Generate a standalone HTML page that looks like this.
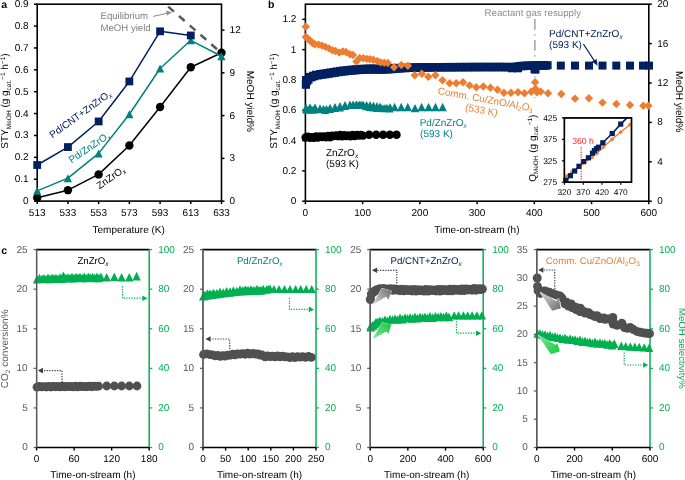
<!DOCTYPE html>
<html><head><meta charset="utf-8"><style>
html,body{margin:0;padding:0;background:#fff;width:685px;height:480px;overflow:hidden}
svg{display:block;will-change:transform;text-rendering:geometricPrecision}
text{font-family:"Liberation Sans",sans-serif}
</style></head><body>
<svg width="685" height="480" viewBox="0 0 685 480" font-family="Liberation Sans, sans-serif">
<rect width="685" height="480" fill="#fff"/>
<rect x="37.2" y="4.2" width="184.3" height="196.9" fill="none" stroke="#000" stroke-width="1.6"/>
<line x1="34.00" y1="201.10" x2="37.20" y2="201.10" stroke="#000" stroke-width="1.5"/>
<text x="28.60" y="204.05" font-size="10" text-anchor="end" fill="#000">0</text>
<line x1="34.00" y1="179.22" x2="37.20" y2="179.22" stroke="#000" stroke-width="1.5"/>
<text x="28.60" y="182.17" font-size="10" text-anchor="end" fill="#000">0.1</text>
<line x1="34.00" y1="157.34" x2="37.20" y2="157.34" stroke="#000" stroke-width="1.5"/>
<text x="28.60" y="160.29" font-size="10" text-anchor="end" fill="#000">0.2</text>
<line x1="34.00" y1="135.47" x2="37.20" y2="135.47" stroke="#000" stroke-width="1.5"/>
<text x="28.60" y="138.42" font-size="10" text-anchor="end" fill="#000">0.3</text>
<line x1="34.00" y1="113.59" x2="37.20" y2="113.59" stroke="#000" stroke-width="1.5"/>
<text x="28.60" y="116.54" font-size="10" text-anchor="end" fill="#000">0.4</text>
<line x1="34.00" y1="91.71" x2="37.20" y2="91.71" stroke="#000" stroke-width="1.5"/>
<text x="28.60" y="94.66" font-size="10" text-anchor="end" fill="#000">0.5</text>
<line x1="34.00" y1="69.83" x2="37.20" y2="69.83" stroke="#000" stroke-width="1.5"/>
<text x="28.60" y="72.78" font-size="10" text-anchor="end" fill="#000">0.6</text>
<line x1="34.00" y1="47.96" x2="37.20" y2="47.96" stroke="#000" stroke-width="1.5"/>
<text x="28.60" y="50.91" font-size="10" text-anchor="end" fill="#000">0.7</text>
<line x1="34.00" y1="26.08" x2="37.20" y2="26.08" stroke="#000" stroke-width="1.5"/>
<text x="28.60" y="29.03" font-size="10" text-anchor="end" fill="#000">0.8</text>
<line x1="34.00" y1="4.20" x2="37.20" y2="4.20" stroke="#000" stroke-width="1.5"/>
<text x="28.60" y="7.15" font-size="10" text-anchor="end" fill="#000">0.9</text>
<line x1="221.50" y1="201.10" x2="224.50" y2="201.10" stroke="#000" stroke-width="1.5"/>
<text x="229.60" y="204.05" font-size="10" text-anchor="start" fill="#000">0</text>
<line x1="221.50" y1="158.35" x2="224.50" y2="158.35" stroke="#000" stroke-width="1.5"/>
<text x="229.60" y="161.30" font-size="10" text-anchor="start" fill="#000">3</text>
<line x1="221.50" y1="115.60" x2="224.50" y2="115.60" stroke="#000" stroke-width="1.5"/>
<text x="229.60" y="118.55" font-size="10" text-anchor="start" fill="#000">6</text>
<line x1="221.50" y1="72.85" x2="224.50" y2="72.85" stroke="#000" stroke-width="1.5"/>
<text x="229.60" y="75.80" font-size="10" text-anchor="start" fill="#000">9</text>
<line x1="221.50" y1="30.10" x2="224.50" y2="30.10" stroke="#000" stroke-width="1.5"/>
<text x="229.60" y="33.05" font-size="10" text-anchor="start" fill="#000">12</text>
<line x1="37.20" y1="201.10" x2="37.20" y2="204.10" stroke="#000" stroke-width="1.5"/>
<text x="37.20" y="216.20" font-size="10" text-anchor="middle" fill="#000">513</text>
<line x1="67.92" y1="201.10" x2="67.92" y2="204.10" stroke="#000" stroke-width="1.5"/>
<text x="67.92" y="216.20" font-size="10" text-anchor="middle" fill="#000">533</text>
<line x1="98.63" y1="201.10" x2="98.63" y2="204.10" stroke="#000" stroke-width="1.5"/>
<text x="98.63" y="216.20" font-size="10" text-anchor="middle" fill="#000">553</text>
<line x1="129.35" y1="201.10" x2="129.35" y2="204.10" stroke="#000" stroke-width="1.5"/>
<text x="129.35" y="216.20" font-size="10" text-anchor="middle" fill="#000">573</text>
<line x1="160.07" y1="201.10" x2="160.07" y2="204.10" stroke="#000" stroke-width="1.5"/>
<text x="160.07" y="216.20" font-size="10" text-anchor="middle" fill="#000">593</text>
<line x1="190.78" y1="201.10" x2="190.78" y2="204.10" stroke="#000" stroke-width="1.5"/>
<text x="190.78" y="216.20" font-size="10" text-anchor="middle" fill="#000">613</text>
<line x1="221.50" y1="201.10" x2="221.50" y2="204.10" stroke="#000" stroke-width="1.5"/>
<text x="221.50" y="216.20" font-size="10" text-anchor="middle" fill="#000">633</text>
<text x="128.70" y="232.90" font-size="10" text-anchor="middle" fill="#000">Temperature (K)</text>
<text x="246.60" y="101.30" font-size="10" text-anchor="middle" fill="#000" transform="rotate(90 246.6 101.3)">MeOH yield%</text>
<text x="8.0" y="101" font-size="10" fill="#000" text-anchor="middle" transform="rotate(-90 8.0 101)">STY<tspan font-size="6.5" dy="2.5">MeOH</tspan><tspan dy="-2.5"> (g g</tspan><tspan font-size="6.5" dy="2.5">cat.</tspan><tspan font-size="6.5" dy="-6">−1</tspan><tspan dy="3.5"> h</tspan><tspan font-size="6.5" dy="-3.5">−1</tspan><tspan dy="3.5">)</tspan></text>
<line x1="168.20" y1="6.60" x2="221.40" y2="53.00" stroke="#595959" stroke-width="2.5" stroke-dasharray="7.6,6.7"/>
<polyline points="37.20,197.82 67.92,190.16 98.63,174.41 129.35,145.53 160.07,107.03 190.78,67.21 221.50,52.77" fill="none" stroke="#000" stroke-width="1.5" stroke-linejoin="round"/>
<circle cx="37.20" cy="197.82" r="4.2" fill="#000"/>
<circle cx="67.92" cy="190.16" r="4.2" fill="#000"/>
<circle cx="98.63" cy="174.41" r="4.2" fill="#000"/>
<circle cx="129.35" cy="145.53" r="4.2" fill="#000"/>
<circle cx="160.07" cy="107.03" r="4.2" fill="#000"/>
<circle cx="190.78" cy="67.21" r="4.2" fill="#000"/>
<circle cx="221.50" cy="52.77" r="4.2" fill="#000"/>
<polyline points="37.20,190.82 67.92,178.13 98.63,153.41 129.35,114.25 160.07,68.52 190.78,40.30 221.50,56.27" fill="none" stroke="#008080" stroke-width="1.5" stroke-linejoin="round"/>
<path d="M37.20,186.82L41.30,194.82L33.10,194.82Z" fill="#008080"/>
<path d="M67.92,174.13L72.02,182.13L63.82,182.13Z" fill="#008080"/>
<path d="M98.63,149.41L102.73,157.41L94.53,157.41Z" fill="#008080"/>
<path d="M129.35,110.25L133.45,118.25L125.25,118.25Z" fill="#008080"/>
<path d="M160.07,64.52L164.17,72.52L155.97,72.52Z" fill="#008080"/>
<path d="M190.78,36.30L194.88,44.30L186.68,44.30Z" fill="#008080"/>
<path d="M221.50,52.27L225.60,60.27L217.40,60.27Z" fill="#008080"/>
<polyline points="37.20,165.00 67.92,147.06 98.63,121.46 129.35,81.43 160.07,31.33 190.78,35.49" fill="none" stroke="#002060" stroke-width="1.5" stroke-linejoin="round"/>
<rect x="33.30" y="161.10" width="7.8" height="7.8" fill="#002060"/>
<rect x="64.02" y="143.16" width="7.8" height="7.8" fill="#002060"/>
<rect x="94.73" y="117.56" width="7.8" height="7.8" fill="#002060"/>
<rect x="125.45" y="77.53" width="7.8" height="7.8" fill="#002060"/>
<rect x="156.17" y="27.43" width="7.8" height="7.8" fill="#002060"/>
<rect x="186.88" y="31.59" width="7.8" height="7.8" fill="#002060"/>
<text x="100.50" y="19.10" font-size="9.6" text-anchor="start" fill="#7f7f7f">Equilibrium</text>
<text x="100.50" y="30.90" font-size="9.6" text-anchor="start" fill="#7f7f7f">MeOH yield</text>
<line x1="153.10" y1="16.40" x2="167.00" y2="13.30" stroke="#8c8c8c" stroke-width="1"/>
<path d="M171.8,12.3 L166,10.6 L167.2,15.6 Z" fill="#8c8c8c"/>
<text x="52.5" y="138.5" font-size="10" fill="#002060" transform="rotate(-36 52.5 138.5)">Pd/CNT+ZnZrO<tspan font-size="6.5" dy="2" font-style="italic">x</tspan></text>
<text x="71.5" y="163.5" font-size="10" fill="#008080" transform="rotate(-34 71.5 163.5)">Pd/ZnZrO<tspan font-size="6.5" dy="2" font-style="italic">x</tspan></text>
<text x="99.5" y="189.5" font-size="10" fill="#000" transform="rotate(-35 99.5 189.5)">ZnZrO<tspan font-size="6.5" dy="2" font-style="italic">x</tspan></text>
<text x="1.20" y="8.00" font-size="10.5" text-anchor="start" fill="#000" font-weight="bold">a</text>
<text x="268.00" y="8.00" font-size="10.5" text-anchor="start" fill="#000" font-weight="bold">b</text>
<text x="1.20" y="253.80" font-size="10.5" text-anchor="start" fill="#000" font-weight="bold">c</text>
<rect x="305.4" y="4.2" width="343.4" height="197.0" fill="none" stroke="#000" stroke-width="1.6"/>
<line x1="302.20" y1="201.20" x2="305.40" y2="201.20" stroke="#000" stroke-width="1.5"/>
<text x="296.30" y="204.15" font-size="10" text-anchor="end" fill="#000">0</text>
<line x1="302.20" y1="170.89" x2="305.40" y2="170.89" stroke="#000" stroke-width="1.5"/>
<text x="296.30" y="173.84" font-size="10" text-anchor="end" fill="#000">0.2</text>
<line x1="302.20" y1="140.58" x2="305.40" y2="140.58" stroke="#000" stroke-width="1.5"/>
<text x="296.30" y="143.53" font-size="10" text-anchor="end" fill="#000">0.4</text>
<line x1="302.20" y1="110.28" x2="305.40" y2="110.28" stroke="#000" stroke-width="1.5"/>
<text x="296.30" y="113.23" font-size="10" text-anchor="end" fill="#000">0.6</text>
<line x1="302.20" y1="79.97" x2="305.40" y2="79.97" stroke="#000" stroke-width="1.5"/>
<text x="296.30" y="82.92" font-size="10" text-anchor="end" fill="#000">0.8</text>
<line x1="302.20" y1="49.66" x2="305.40" y2="49.66" stroke="#000" stroke-width="1.5"/>
<text x="296.30" y="52.61" font-size="10" text-anchor="end" fill="#000">1</text>
<line x1="302.20" y1="19.35" x2="305.40" y2="19.35" stroke="#000" stroke-width="1.5"/>
<text x="296.30" y="22.30" font-size="10" text-anchor="end" fill="#000">1.2</text>
<line x1="648.80" y1="201.20" x2="651.80" y2="201.20" stroke="#000" stroke-width="1.5"/>
<text x="657.20" y="204.15" font-size="10" text-anchor="start" fill="#000">0</text>
<line x1="648.80" y1="161.80" x2="651.80" y2="161.80" stroke="#000" stroke-width="1.5"/>
<text x="657.20" y="164.75" font-size="10" text-anchor="start" fill="#000">4</text>
<line x1="648.80" y1="122.40" x2="651.80" y2="122.40" stroke="#000" stroke-width="1.5"/>
<text x="657.20" y="125.35" font-size="10" text-anchor="start" fill="#000">8</text>
<line x1="648.80" y1="83.00" x2="651.80" y2="83.00" stroke="#000" stroke-width="1.5"/>
<text x="657.20" y="85.95" font-size="10" text-anchor="start" fill="#000">12</text>
<line x1="648.80" y1="43.60" x2="651.80" y2="43.60" stroke="#000" stroke-width="1.5"/>
<text x="657.20" y="46.55" font-size="10" text-anchor="start" fill="#000">16</text>
<line x1="648.80" y1="4.20" x2="651.80" y2="4.20" stroke="#000" stroke-width="1.5"/>
<text x="657.20" y="7.15" font-size="10" text-anchor="start" fill="#000">20</text>
<line x1="305.40" y1="201.20" x2="305.40" y2="204.20" stroke="#000" stroke-width="1.5"/>
<text x="305.40" y="216.20" font-size="10" text-anchor="middle" fill="#000">0</text>
<line x1="362.63" y1="201.20" x2="362.63" y2="204.20" stroke="#000" stroke-width="1.5"/>
<text x="362.63" y="216.20" font-size="10" text-anchor="middle" fill="#000">100</text>
<line x1="419.87" y1="201.20" x2="419.87" y2="204.20" stroke="#000" stroke-width="1.5"/>
<text x="419.87" y="216.20" font-size="10" text-anchor="middle" fill="#000">200</text>
<line x1="477.10" y1="201.20" x2="477.10" y2="204.20" stroke="#000" stroke-width="1.5"/>
<text x="477.10" y="216.20" font-size="10" text-anchor="middle" fill="#000">300</text>
<line x1="534.33" y1="201.20" x2="534.33" y2="204.20" stroke="#000" stroke-width="1.5"/>
<text x="534.33" y="216.20" font-size="10" text-anchor="middle" fill="#000">400</text>
<line x1="591.57" y1="201.20" x2="591.57" y2="204.20" stroke="#000" stroke-width="1.5"/>
<text x="591.57" y="216.20" font-size="10" text-anchor="middle" fill="#000">500</text>
<line x1="648.80" y1="201.20" x2="648.80" y2="204.20" stroke="#000" stroke-width="1.5"/>
<text x="648.80" y="216.20" font-size="10" text-anchor="middle" fill="#000">600</text>
<text x="476.90" y="232.50" font-size="10" text-anchor="middle" fill="#000">Time-on-stream (h)</text>
<text x="676.30" y="101.70" font-size="10" text-anchor="middle" fill="#000" transform="rotate(90 676.3 101.7)">MeOH yield%</text>
<text x="277.0" y="101" font-size="10" fill="#000" text-anchor="middle" transform="rotate(-90 277.0 101)">STY<tspan font-size="6.5" dy="2.5">MeOH</tspan><tspan dy="-2.5"> (g g</tspan><tspan font-size="6.5" dy="2.5">cat.</tspan><tspan font-size="6.5" dy="-6">−1</tspan><tspan dy="3.5"> h</tspan><tspan font-size="6.5" dy="-3.5">−1</tspan><tspan dy="3.5">)</tspan></text>
<line x1="534.90" y1="19.00" x2="534.90" y2="98.00" stroke="#8a8a8a" stroke-width="1.2" stroke-dasharray="10.8,4.5,1.3,4.4"/>
<circle cx="305.60" cy="137.50" r="4.2" fill="#000"/>
<circle cx="307.80" cy="136.72" r="4.2" fill="#000"/>
<circle cx="310.00" cy="137.68" r="4.2" fill="#000"/>
<circle cx="312.00" cy="137.14" r="4.2" fill="#000"/>
<circle cx="314.00" cy="137.80" r="4.2" fill="#000"/>
<circle cx="316.00" cy="136.54" r="4.2" fill="#000"/>
<circle cx="318.00" cy="137.62" r="4.2" fill="#000"/>
<circle cx="320.00" cy="136.42" r="4.2" fill="#000"/>
<circle cx="322.00" cy="137.02" r="4.2" fill="#000"/>
<circle cx="324.00" cy="136.54" r="4.2" fill="#000"/>
<circle cx="326.00" cy="137.26" r="4.2" fill="#000"/>
<circle cx="328.00" cy="136.06" r="4.2" fill="#000"/>
<circle cx="330.00" cy="137.20" r="4.2" fill="#000"/>
<circle cx="332.00" cy="135.79" r="4.2" fill="#000"/>
<circle cx="334.00" cy="136.11" r="4.2" fill="#000"/>
<circle cx="336.00" cy="135.36" r="4.2" fill="#000"/>
<circle cx="338.00" cy="136.17" r="4.2" fill="#000"/>
<circle cx="340.00" cy="135.07" r="4.2" fill="#000"/>
<circle cx="342.00" cy="136.30" r="4.2" fill="#000"/>
<circle cx="344.00" cy="135.25" r="4.2" fill="#000"/>
<circle cx="346.00" cy="135.95" r="4.2" fill="#000"/>
<circle cx="348.00" cy="135.56" r="4.2" fill="#000"/>
<circle cx="350.25" cy="136.24" r="4.2" fill="#000"/>
<circle cx="352.50" cy="135.00" r="4.2" fill="#000"/>
<circle cx="354.75" cy="136.10" r="4.2" fill="#000"/>
<circle cx="357.00" cy="134.92" r="4.2" fill="#000"/>
<circle cx="359.00" cy="135.48" r="4.2" fill="#000"/>
<circle cx="361.00" cy="134.96" r="4.2" fill="#000"/>
<circle cx="363.00" cy="135.64" r="4.2" fill="#000"/>
<circle cx="369.10" cy="134.70" r="4.25" fill="#000"/>
<circle cx="376.10" cy="134.70" r="4.25" fill="#000"/>
<circle cx="383.10" cy="134.70" r="4.25" fill="#000"/>
<circle cx="389.80" cy="134.70" r="4.25" fill="#000"/>
<circle cx="396.50" cy="134.70" r="4.25" fill="#000"/>
<path d="M306.00,105.40L310.00,113.40L302.00,113.40Z" fill="#008080"/>
<path d="M309.00,105.40L313.00,113.40L305.00,113.40Z" fill="#008080"/>
<path d="M312.00,105.40L316.00,113.40L308.00,113.40Z" fill="#008080"/>
<path d="M315.00,105.40L319.00,113.40L311.00,113.40Z" fill="#008080"/>
<path d="M320.00,105.00L324.00,113.00L316.00,113.00Z" fill="#008080"/>
<path d="M323.33,105.00L327.33,113.00L319.33,113.00Z" fill="#008080"/>
<path d="M326.67,105.00L330.67,113.00L322.67,113.00Z" fill="#008080"/>
<path d="M330.00,105.00L334.00,113.00L326.00,113.00Z" fill="#008080"/>
<path d="M335.00,104.00L339.00,112.00L331.00,112.00Z" fill="#008080"/>
<path d="M340.00,103.50L344.00,111.50L336.00,111.50Z" fill="#008080"/>
<path d="M345.00,101.90L349.00,109.90L341.00,109.90Z" fill="#008080"/>
<path d="M350.00,100.80L354.00,108.80L346.00,108.80Z" fill="#008080"/>
<path d="M353.00,100.80L357.00,108.80L349.00,108.80Z" fill="#008080"/>
<path d="M356.00,100.80L360.00,108.80L352.00,108.80Z" fill="#008080"/>
<path d="M359.00,100.80L363.00,108.80L355.00,108.80Z" fill="#008080"/>
<path d="M362.00,100.80L366.00,108.80L358.00,108.80Z" fill="#008080"/>
<path d="M366.00,102.30L370.00,110.30L362.00,110.30Z" fill="#008080"/>
<path d="M369.67,102.90L373.67,110.90L365.67,110.90Z" fill="#008080"/>
<path d="M373.33,103.50L377.33,111.50L369.33,111.50Z" fill="#008080"/>
<path d="M377.00,104.10L381.00,112.10L373.00,112.10Z" fill="#008080"/>
<path d="M381.00,104.10L385.00,112.10L377.00,112.10Z" fill="#008080"/>
<path d="M385.00,104.10L389.00,112.10L381.00,112.10Z" fill="#008080"/>
<path d="M390.00,103.00L394.00,111.00L386.00,111.00Z" fill="#008080"/>
<path d="M306.00,103.60L310.00,111.60L302.00,111.60Z" fill="#008080"/>
<path d="M310.00,103.30L314.00,111.30L306.00,111.30Z" fill="#008080"/>
<path d="M315.00,103.30L319.00,111.30L311.00,111.30Z" fill="#008080"/>
<path d="M320.00,104.60L324.00,112.60L316.00,112.60Z" fill="#008080"/>
<path d="M325.00,106.00L329.00,114.00L321.00,114.00Z" fill="#008080"/>
<path d="M330.00,103.80L334.00,111.80L326.00,111.80Z" fill="#008080"/>
<path d="M335.00,102.90L339.00,110.90L331.00,110.90Z" fill="#008080"/>
<path d="M340.00,102.00L344.00,110.00L336.00,110.00Z" fill="#008080"/>
<path d="M345.00,101.10L349.00,109.10L341.00,109.10Z" fill="#008080"/>
<path d="M350.00,100.70L354.00,108.70L346.00,108.70Z" fill="#008080"/>
<path d="M353.33,100.63L357.33,108.63L349.33,108.63Z" fill="#008080"/>
<path d="M356.67,100.57L360.67,108.57L352.67,108.57Z" fill="#008080"/>
<path d="M360.00,100.50L364.00,108.50L356.00,108.50Z" fill="#008080"/>
<path d="M363.33,100.70L367.33,108.70L359.33,108.70Z" fill="#008080"/>
<path d="M366.67,100.90L370.67,108.90L362.67,108.90Z" fill="#008080"/>
<path d="M370.00,101.10L374.00,109.10L366.00,109.10Z" fill="#008080"/>
<path d="M373.50,101.55L377.50,109.55L369.50,109.55Z" fill="#008080"/>
<path d="M377.00,102.00L381.00,110.00L373.00,110.00Z" fill="#008080"/>
<path d="M380.00,102.40L384.00,110.40L376.00,110.40Z" fill="#008080"/>
<path d="M383.00,104.20L387.00,112.20L379.00,112.20Z" fill="#008080"/>
<path d="M387.00,103.80L391.00,111.80L383.00,111.80Z" fill="#008080"/>
<path d="M389.50,104.40L393.50,112.40L385.50,112.40Z" fill="#008080"/>
<path d="M394.60,102.75L398.80,111.15L390.40,111.15Z" fill="#008080"/>
<path d="M401.20,102.75L405.40,111.15L397.00,111.15Z" fill="#008080"/>
<path d="M407.80,102.75L412.00,111.15L403.60,111.15Z" fill="#008080"/>
<path d="M415.00,103.95L419.20,112.35L410.80,112.35Z" fill="#008080"/>
<path d="M421.60,102.75L425.80,111.15L417.40,111.15Z" fill="#008080"/>
<path d="M428.60,102.75L432.80,111.15L424.40,111.15Z" fill="#008080"/>
<path d="M435.50,102.75L439.70,111.15L431.30,111.15Z" fill="#008080"/>
<path d="M442.60,102.75L446.80,111.15L438.40,111.15Z" fill="#008080"/>
<rect x="301.80" y="80.50" width="8" height="8" fill="#002060"/>
<rect x="303.00" y="77.10" width="8" height="8" fill="#002060"/>
<rect x="304.50" y="75.70" width="8" height="8" fill="#002060"/>
<rect x="306.00" y="72.90" width="8" height="8" fill="#002060"/>
<rect x="307.50" y="73.40" width="8" height="8" fill="#002060"/>
<rect x="309.00" y="71.70" width="8" height="8" fill="#002060"/>
<rect x="310.50" y="72.30" width="8" height="8" fill="#002060"/>
<rect x="312.00" y="70.70" width="8" height="8" fill="#002060"/>
<rect x="314.00" y="71.45" width="8" height="8" fill="#002060"/>
<rect x="316.00" y="70.00" width="8" height="8" fill="#002060"/>
<rect x="317.67" y="70.87" width="8" height="8" fill="#002060"/>
<rect x="319.33" y="69.53" width="8" height="8" fill="#002060"/>
<rect x="321.00" y="70.40" width="8" height="8" fill="#002060"/>
<rect x="322.67" y="69.03" width="8" height="8" fill="#002060"/>
<rect x="324.33" y="69.87" width="8" height="8" fill="#002060"/>
<rect x="326.00" y="68.50" width="8" height="8" fill="#002060"/>
<rect x="327.67" y="69.33" width="8" height="8" fill="#002060"/>
<rect x="329.33" y="67.97" width="8" height="8" fill="#002060"/>
<rect x="331.00" y="68.80" width="8" height="8" fill="#002060"/>
<rect x="332.67" y="67.43" width="8" height="8" fill="#002060"/>
<rect x="334.33" y="68.27" width="8" height="8" fill="#002060"/>
<rect x="336.00" y="66.90" width="8" height="8" fill="#002060"/>
<rect x="337.67" y="67.80" width="8" height="8" fill="#002060"/>
<rect x="339.33" y="66.50" width="8" height="8" fill="#002060"/>
<rect x="341.00" y="67.40" width="8" height="8" fill="#002060"/>
<rect x="342.75" y="66.12" width="8" height="8" fill="#002060"/>
<rect x="344.50" y="67.05" width="8" height="8" fill="#002060"/>
<rect x="346.25" y="65.77" width="8" height="8" fill="#002060"/>
<rect x="348.00" y="66.70" width="8" height="8" fill="#002060"/>
<rect x="349.60" y="65.46" width="8" height="8" fill="#002060"/>
<rect x="351.20" y="66.42" width="8" height="8" fill="#002060"/>
<rect x="352.80" y="65.18" width="8" height="8" fill="#002060"/>
<rect x="354.40" y="66.14" width="8" height="8" fill="#002060"/>
<rect x="356.00" y="64.90" width="8" height="8" fill="#002060"/>
<rect x="357.67" y="65.93" width="8" height="8" fill="#002060"/>
<rect x="359.33" y="64.77" width="8" height="8" fill="#002060"/>
<rect x="361.00" y="65.80" width="8" height="8" fill="#002060"/>
<rect x="362.67" y="64.63" width="8" height="8" fill="#002060"/>
<rect x="364.33" y="65.67" width="8" height="8" fill="#002060"/>
<rect x="366.00" y="64.50" width="8" height="8" fill="#002060"/>
<rect x="367.67" y="65.63" width="8" height="8" fill="#002060"/>
<rect x="369.33" y="64.57" width="8" height="8" fill="#002060"/>
<rect x="371.00" y="65.70" width="8" height="8" fill="#002060"/>
<rect x="372.67" y="64.63" width="8" height="8" fill="#002060"/>
<rect x="374.33" y="65.77" width="8" height="8" fill="#002060"/>
<rect x="376.00" y="64.70" width="8" height="8" fill="#002060"/>
<rect x="377.67" y="65.73" width="8" height="8" fill="#002060"/>
<rect x="379.33" y="64.57" width="8" height="8" fill="#002060"/>
<rect x="381.00" y="65.60" width="8" height="8" fill="#002060"/>
<rect x="382.67" y="64.43" width="8" height="8" fill="#002060"/>
<rect x="384.33" y="65.47" width="8" height="8" fill="#002060"/>
<rect x="386.00" y="64.30" width="8" height="8" fill="#002060"/>
<rect x="387.67" y="65.27" width="8" height="8" fill="#002060"/>
<rect x="389.33" y="64.03" width="8" height="8" fill="#002060"/>
<rect x="391.00" y="65.00" width="8" height="8" fill="#002060"/>
<rect x="392.67" y="63.77" width="8" height="8" fill="#002060"/>
<rect x="394.33" y="64.73" width="8" height="8" fill="#002060"/>
<rect x="396.00" y="64.00" width="8" height="8" fill="#002060"/>
<rect x="397.67" y="64.41" width="8" height="8" fill="#002060"/>
<rect x="399.33" y="63.83" width="8" height="8" fill="#002060"/>
<rect x="401.00" y="64.24" width="8" height="8" fill="#002060"/>
<rect x="402.67" y="63.66" width="8" height="8" fill="#002060"/>
<rect x="404.33" y="64.07" width="8" height="8" fill="#002060"/>
<rect x="406.00" y="63.50" width="8" height="8" fill="#002060"/>
<rect x="407.67" y="63.94" width="8" height="8" fill="#002060"/>
<rect x="409.33" y="63.39" width="8" height="8" fill="#002060"/>
<rect x="411.00" y="63.84" width="8" height="8" fill="#002060"/>
<rect x="412.67" y="63.30" width="8" height="8" fill="#002060"/>
<rect x="414.33" y="63.74" width="8" height="8" fill="#002060"/>
<rect x="416.00" y="63.19" width="8" height="8" fill="#002060"/>
<rect x="417.67" y="63.67" width="8" height="8" fill="#002060"/>
<rect x="419.33" y="63.16" width="8" height="8" fill="#002060"/>
<rect x="421.00" y="63.64" width="8" height="8" fill="#002060"/>
<rect x="422.67" y="63.13" width="8" height="8" fill="#002060"/>
<rect x="424.33" y="63.61" width="8" height="8" fill="#002060"/>
<rect x="426.00" y="63.09" width="8" height="8" fill="#002060"/>
<rect x="427.67" y="63.57" width="8" height="8" fill="#002060"/>
<rect x="429.33" y="63.06" width="8" height="8" fill="#002060"/>
<rect x="431.00" y="63.54" width="8" height="8" fill="#002060"/>
<rect x="432.67" y="63.03" width="8" height="8" fill="#002060"/>
<rect x="434.33" y="63.51" width="8" height="8" fill="#002060"/>
<rect x="436.00" y="63.00" width="8" height="8" fill="#002060"/>
<rect x="437.67" y="63.48" width="8" height="8" fill="#002060"/>
<rect x="439.33" y="62.98" width="8" height="8" fill="#002060"/>
<rect x="441.00" y="63.47" width="8" height="8" fill="#002060"/>
<rect x="442.67" y="62.96" width="8" height="8" fill="#002060"/>
<rect x="444.33" y="63.45" width="8" height="8" fill="#002060"/>
<rect x="446.00" y="62.94" width="8" height="8" fill="#002060"/>
<rect x="447.67" y="63.43" width="8" height="8" fill="#002060"/>
<rect x="449.33" y="62.93" width="8" height="8" fill="#002060"/>
<rect x="451.00" y="63.42" width="8" height="8" fill="#002060"/>
<rect x="452.67" y="62.91" width="8" height="8" fill="#002060"/>
<rect x="454.33" y="63.40" width="8" height="8" fill="#002060"/>
<rect x="456.00" y="62.89" width="8" height="8" fill="#002060"/>
<rect x="457.67" y="63.38" width="8" height="8" fill="#002060"/>
<rect x="459.33" y="62.88" width="8" height="8" fill="#002060"/>
<rect x="461.00" y="63.37" width="8" height="8" fill="#002060"/>
<rect x="462.67" y="62.86" width="8" height="8" fill="#002060"/>
<rect x="464.33" y="63.35" width="8" height="8" fill="#002060"/>
<rect x="466.00" y="62.84" width="8" height="8" fill="#002060"/>
<rect x="467.67" y="63.33" width="8" height="8" fill="#002060"/>
<rect x="469.33" y="62.83" width="8" height="8" fill="#002060"/>
<rect x="471.00" y="63.31" width="8" height="8" fill="#002060"/>
<rect x="472.67" y="62.81" width="8" height="8" fill="#002060"/>
<rect x="474.33" y="63.30" width="8" height="8" fill="#002060"/>
<rect x="476.00" y="62.80" width="8" height="8" fill="#002060"/>
<rect x="477.67" y="63.29" width="8" height="8" fill="#002060"/>
<rect x="479.33" y="62.80" width="8" height="8" fill="#002060"/>
<rect x="481.00" y="63.29" width="8" height="8" fill="#002060"/>
<rect x="482.67" y="62.80" width="8" height="8" fill="#002060"/>
<rect x="484.33" y="63.29" width="8" height="8" fill="#002060"/>
<rect x="486.00" y="62.80" width="8" height="8" fill="#002060"/>
<rect x="487.67" y="63.29" width="8" height="8" fill="#002060"/>
<rect x="489.33" y="62.80" width="8" height="8" fill="#002060"/>
<rect x="491.00" y="63.29" width="8" height="8" fill="#002060"/>
<rect x="492.67" y="62.80" width="8" height="8" fill="#002060"/>
<rect x="494.33" y="63.29" width="8" height="8" fill="#002060"/>
<rect x="496.00" y="62.80" width="8" height="8" fill="#002060"/>
<rect x="497.67" y="63.30" width="8" height="8" fill="#002060"/>
<rect x="499.33" y="62.82" width="8" height="8" fill="#002060"/>
<rect x="501.00" y="63.32" width="8" height="8" fill="#002060"/>
<rect x="502.67" y="62.84" width="8" height="8" fill="#002060"/>
<rect x="504.33" y="63.35" width="8" height="8" fill="#002060"/>
<rect x="506.00" y="62.86" width="8" height="8" fill="#002060"/>
<rect x="507.67" y="63.37" width="8" height="8" fill="#002060"/>
<rect x="509.33" y="62.88" width="8" height="8" fill="#002060"/>
<rect x="511.00" y="63.39" width="8" height="8" fill="#002060"/>
<rect x="512.50" y="62.62" width="8" height="8" fill="#002060"/>
<rect x="514.00" y="62.84" width="8" height="8" fill="#002060"/>
<rect x="515.50" y="62.07" width="8" height="8" fill="#002060"/>
<rect x="517.00" y="62.29" width="8" height="8" fill="#002060"/>
<rect x="518.50" y="61.73" width="8" height="8" fill="#002060"/>
<rect x="520.00" y="62.16" width="8" height="8" fill="#002060"/>
<rect x="521.50" y="61.59" width="8" height="8" fill="#002060"/>
<rect x="523.00" y="62.02" width="8" height="8" fill="#002060"/>
<rect x="524.50" y="61.46" width="8" height="8" fill="#002060"/>
<rect x="526.00" y="61.89" width="8" height="8" fill="#002060"/>
<rect x="527.60" y="61.38" width="8" height="8" fill="#002060"/>
<rect x="529.20" y="61.85" width="8" height="8" fill="#002060"/>
<rect x="530.80" y="61.34" width="8" height="8" fill="#002060"/>
<rect x="532.40" y="61.82" width="8" height="8" fill="#002060"/>
<rect x="534.00" y="61.30" width="8" height="8" fill="#002060"/>
<rect x="535.60" y="61.78" width="8" height="8" fill="#002060"/>
<rect x="537.20" y="61.27" width="8" height="8" fill="#002060"/>
<rect x="538.80" y="61.74" width="8" height="8" fill="#002060"/>
<rect x="540.40" y="61.23" width="8" height="8" fill="#002060"/>
<rect x="542.00" y="61.71" width="8" height="8" fill="#002060"/>
<rect x="543.60" y="61.19" width="8" height="8" fill="#002060"/>
<rect x="302.00" y="80.60" width="8" height="8" fill="#002060"/>
<rect x="302.00" y="76.00" width="8" height="8" fill="#002060"/>
<rect x="530.50" y="65.20" width="8" height="8" fill="#002060"/>
<rect x="531.50" y="65.60" width="8" height="8" fill="#002060"/>
<rect x="508.00" y="64.30" width="8" height="8" fill="#002060"/>
<rect x="514.00" y="64.30" width="8" height="8" fill="#002060"/>
<rect x="556.80" y="61.60" width="8" height="8" fill="#002060"/>
<rect x="571.00" y="61.60" width="8" height="8" fill="#002060"/>
<rect x="585.00" y="61.60" width="8" height="8" fill="#002060"/>
<rect x="598.50" y="61.60" width="8" height="8" fill="#002060"/>
<rect x="612.30" y="61.60" width="8" height="8" fill="#002060"/>
<rect x="626.00" y="61.60" width="8" height="8" fill="#002060"/>
<rect x="639.00" y="61.60" width="8" height="8" fill="#002060"/>
<rect x="645.00" y="61.60" width="8" height="8" fill="#002060"/>
<path d="M305.80,22.40L310.10,26.70L305.80,31.00L301.50,26.70Z" fill="#ED7D31"/>
<path d="M305.80,32.80L310.00,37.00L305.80,41.20L301.60,37.00Z" fill="#ED7D31"/>
<path d="M307.20,33.97L311.40,38.17L307.20,42.37L303.00,38.17Z" fill="#ED7D31"/>
<path d="M308.60,35.13L312.80,39.33L308.60,43.53L304.40,39.33Z" fill="#ED7D31"/>
<path d="M310.00,36.30L314.20,40.50L310.00,44.70L305.80,40.50Z" fill="#ED7D31"/>
<path d="M311.50,37.75L315.70,41.95L311.50,46.15L307.30,41.95Z" fill="#ED7D31"/>
<path d="M313.00,39.20L317.20,43.40L313.00,47.60L308.80,43.40Z" fill="#ED7D31"/>
<path d="M315.00,40.00L319.20,44.20L315.00,48.40L310.80,44.20Z" fill="#ED7D31"/>
<path d="M318.60,40.40L322.80,44.60L318.60,48.80L314.40,44.60Z" fill="#ED7D31"/>
<path d="M322.00,41.40L326.20,45.60L322.00,49.80L317.80,45.60Z" fill="#ED7D31"/>
<path d="M325.50,42.70L329.70,46.90L325.50,51.10L321.30,46.90Z" fill="#ED7D31"/>
<path d="M329.00,44.20L333.20,48.40L329.00,52.60L324.80,48.40Z" fill="#ED7D31"/>
<path d="M332.40,46.10L336.60,50.30L332.40,54.50L328.20,50.30Z" fill="#ED7D31"/>
<path d="M335.50,46.80L339.70,51.00L335.50,55.20L331.30,51.00Z" fill="#ED7D31"/>
<path d="M339.30,48.40L343.50,52.60L339.30,56.80L335.10,52.60Z" fill="#ED7D31"/>
<path d="M342.80,47.20L347.00,51.40L342.80,55.60L338.60,51.40Z" fill="#ED7D31"/>
<path d="M346.00,47.80L350.20,52.00L346.00,56.20L341.80,52.00Z" fill="#ED7D31"/>
<path d="M350.00,50.10L354.20,54.30L350.00,58.50L345.80,54.30Z" fill="#ED7D31"/>
<path d="M353.00,50.80L357.20,55.00L353.00,59.20L348.80,55.00Z" fill="#ED7D31"/>
<path d="M356.50,57.30L360.70,61.50L356.50,65.70L352.30,61.50Z" fill="#ED7D31"/>
<path d="M359.70,53.80L363.90,58.00L359.70,62.20L355.50,58.00Z" fill="#ED7D31"/>
<path d="M363.30,54.00L367.50,58.20L363.30,62.40L359.10,58.20Z" fill="#ED7D31"/>
<path d="M366.90,54.70L371.10,58.90L366.90,63.10L362.70,58.90Z" fill="#ED7D31"/>
<path d="M370.00,55.00L374.20,59.20L370.00,63.40L365.80,59.20Z" fill="#ED7D31"/>
<path d="M373.30,55.60L377.50,59.80L373.30,64.00L369.10,59.80Z" fill="#ED7D31"/>
<path d="M377.40,56.80L381.60,61.00L377.40,65.20L373.20,61.00Z" fill="#ED7D31"/>
<path d="M380.60,58.20L384.80,62.40L380.60,66.60L376.40,62.40Z" fill="#ED7D31"/>
<path d="M384.20,58.50L388.40,62.70L384.20,66.90L380.00,62.70Z" fill="#ED7D31"/>
<path d="M387.80,58.80L392.00,63.00L387.80,67.20L383.60,63.00Z" fill="#ED7D31"/>
<path d="M394.00,63.00L398.20,67.20L394.00,71.40L389.80,67.20Z" fill="#ED7D31"/>
<path d="M401.30,60.80L405.50,65.00L401.30,69.20L397.10,65.00Z" fill="#ED7D31"/>
<path d="M407.90,61.60L412.10,65.80L407.90,70.00L403.70,65.80Z" fill="#ED7D31"/>
<path d="M414.70,71.10L418.90,75.30L414.70,79.50L410.50,75.30Z" fill="#ED7D31"/>
<path d="M421.80,69.60L426.00,73.80L421.80,78.00L417.60,73.80Z" fill="#ED7D31"/>
<path d="M428.30,72.50L432.50,76.70L428.30,80.90L424.10,76.70Z" fill="#ED7D31"/>
<path d="M435.40,71.10L439.60,75.30L435.40,79.50L431.20,75.30Z" fill="#ED7D31"/>
<path d="M442.50,76.00L446.70,80.20L442.50,84.40L438.30,80.20Z" fill="#ED7D31"/>
<path d="M449.60,79.10L453.80,83.30L449.60,87.50L445.40,83.30Z" fill="#ED7D31"/>
<path d="M456.20,79.10L460.40,83.30L456.20,87.50L452.00,83.30Z" fill="#ED7D31"/>
<path d="M463.00,78.10L467.20,82.30L463.00,86.50L458.80,82.30Z" fill="#ED7D31"/>
<path d="M469.60,81.20L473.80,85.40L469.60,89.60L465.40,85.40Z" fill="#ED7D31"/>
<path d="M476.30,83.10L480.50,87.30L476.30,91.50L472.10,87.30Z" fill="#ED7D31"/>
<path d="M483.30,82.30L487.50,86.50L483.30,90.70L479.10,86.50Z" fill="#ED7D31"/>
<path d="M490.40,83.60L494.60,87.80L490.40,92.00L486.20,87.80Z" fill="#ED7D31"/>
<path d="M497.50,85.60L501.70,89.80L497.50,94.00L493.30,89.80Z" fill="#ED7D31"/>
<path d="M503.90,88.50L508.10,92.70L503.90,96.90L499.70,92.70Z" fill="#ED7D31"/>
<path d="M511.00,88.60L515.20,92.80L511.00,97.00L506.80,92.80Z" fill="#ED7D31"/>
<path d="M518.00,88.00L522.20,92.20L518.00,96.40L513.80,92.20Z" fill="#ED7D31"/>
<path d="M524.40,89.00L528.60,93.20L524.40,97.40L520.20,93.20Z" fill="#ED7D31"/>
<path d="M531.20,87.60L535.40,91.80L531.20,96.00L527.00,91.80Z" fill="#ED7D31"/>
<path d="M535.10,78.10L539.30,82.30L535.10,86.50L530.90,82.30Z" fill="#ED7D31"/>
<path d="M535.50,84.60L539.70,88.80L535.50,93.00L531.30,88.80Z" fill="#ED7D31"/>
<path d="M537.00,88.10L541.20,92.30L537.00,96.50L532.80,92.30Z" fill="#ED7D31"/>
<path d="M540.80,87.40L545.00,91.60L540.80,95.80L536.60,91.60Z" fill="#ED7D31"/>
<path d="M548.00,89.00L552.20,93.20L548.00,97.40L543.80,93.20Z" fill="#ED7D31"/>
<path d="M561.30,89.80L565.50,94.00L561.30,98.20L557.10,94.00Z" fill="#ED7D31"/>
<path d="M575.00,94.40L579.20,98.60L575.00,102.80L570.80,98.60Z" fill="#ED7D31"/>
<path d="M588.90,94.10L593.10,98.30L588.90,102.50L584.70,98.30Z" fill="#ED7D31"/>
<path d="M602.50,98.40L606.70,102.60L602.50,106.80L598.30,102.60Z" fill="#ED7D31"/>
<path d="M616.30,99.80L620.50,104.00L616.30,108.20L612.10,104.00Z" fill="#ED7D31"/>
<path d="M630.00,100.80L634.20,105.00L630.00,109.20L625.80,105.00Z" fill="#ED7D31"/>
<path d="M643.30,101.60L647.50,105.80L643.30,110.00L639.10,105.80Z" fill="#ED7D31"/>
<path d="M648.40,101.60L652.60,105.80L648.40,110.00L644.20,105.80Z" fill="#ED7D31"/>
<text x="484.60" y="16.20" font-size="9.7" text-anchor="start" fill="#8c8c8c">Reactant gas resupply</text>
<text x="549.1" y="36.5" font-size="10" fill="#002060">Pd/CNT+ZnZrO<tspan font-size="6.5" dy="2" font-style="italic">x</tspan></text>
<text x="549.10" y="47.70" font-size="10" text-anchor="start" fill="#002060">(593 K)</text>
<line x1="583.40" y1="44.00" x2="595.20" y2="62.20" stroke="#002060" stroke-width="1.2"/>
<path d="M597.6,65.8 L591.9,61.6 L596.6,58.9 Z" fill="#002060"/>
<text x="419.7" y="126.3" font-size="10" fill="#008080">Pd/ZnZrO<tspan font-size="6.5" dy="2" font-style="italic">x</tspan></text>
<text x="420.10" y="137.40" font-size="10" text-anchor="start" fill="#008080">(593 K)</text>
<text x="326" y="155.6" font-size="10" fill="#000">ZnZrO<tspan font-size="6.5" dy="2" font-style="italic">x</tspan></text>
<text x="326.00" y="167.20" font-size="10" text-anchor="start" fill="#000">(593 K)</text>
<g transform="translate(437.3,93.9) rotate(10.5)"><text x="0" y="0" font-size="10" fill="#ED7D31">Comm. Cu/ZnO/Al<tspan font-size="6.5" dy="2">2</tspan><tspan dy="-2">O</tspan><tspan font-size="6.5" dy="2">3</tspan></text><text x="30" y="11.2" font-size="10" fill="#ED7D31">(533 K)</text></g>
<rect x="564.4" y="117.9" width="67.10000000000002" height="64.29999999999998" fill="#fff" stroke="#000" stroke-width="1.4"/>
<line x1="561.90" y1="182.20" x2="564.40" y2="182.20" stroke="#000" stroke-width="1.2"/>
<text x="557.20" y="185.20" font-size="8.4" text-anchor="end" fill="#000">275</text>
<line x1="561.90" y1="160.77" x2="564.40" y2="160.77" stroke="#000" stroke-width="1.2"/>
<text x="557.20" y="163.77" font-size="8.4" text-anchor="end" fill="#000">325</text>
<line x1="561.90" y1="139.33" x2="564.40" y2="139.33" stroke="#000" stroke-width="1.2"/>
<text x="557.20" y="142.33" font-size="8.4" text-anchor="end" fill="#000">375</text>
<line x1="561.90" y1="117.90" x2="564.40" y2="117.90" stroke="#000" stroke-width="1.2"/>
<text x="557.20" y="120.90" font-size="8.4" text-anchor="end" fill="#000">425</text>
<line x1="564.40" y1="182.20" x2="564.40" y2="184.70" stroke="#000" stroke-width="1.2"/>
<text x="564.40" y="195.20" font-size="8.4" text-anchor="middle" fill="#000">320</text>
<line x1="583.20" y1="182.20" x2="583.20" y2="184.70" stroke="#000" stroke-width="1.2"/>
<text x="583.20" y="195.20" font-size="8.4" text-anchor="middle" fill="#000">370</text>
<line x1="602.00" y1="182.20" x2="602.00" y2="184.70" stroke="#000" stroke-width="1.2"/>
<text x="602.00" y="195.20" font-size="8.4" text-anchor="middle" fill="#000">420</text>
<line x1="620.80" y1="182.20" x2="620.80" y2="184.70" stroke="#000" stroke-width="1.2"/>
<text x="620.80" y="195.20" font-size="8.4" text-anchor="middle" fill="#000">470</text>
<polyline points="564.40,177.50 570.00,173.20 580.00,166.30 590.00,158.50 600.00,150.50 603.40,147.00 612.20,139.30 620.70,132.10 631.50,123.60" fill="none" stroke="#ED7D31" stroke-width="1.3" stroke-linejoin="round"/>
<path d="M566.00,174.00L568.20,176.20L566.00,178.40L563.80,176.20Z" fill="#ED7D31"/>
<path d="M572.00,169.60L574.20,171.80L572.00,174.00L569.80,171.80Z" fill="#ED7D31"/>
<path d="M579.00,164.40L581.20,166.60L579.00,168.80L576.80,166.60Z" fill="#ED7D31"/>
<path d="M585.00,160.20L587.20,162.40L585.00,164.60L582.80,162.40Z" fill="#ED7D31"/>
<path d="M591.80,155.30L594.00,157.50L591.80,159.70L589.60,157.50Z" fill="#ED7D31"/>
<path d="M597.00,151.10L599.20,153.30L597.00,155.50L594.80,153.30Z" fill="#ED7D31"/>
<path d="M603.40,144.80L605.60,147.00L603.40,149.20L601.20,147.00Z" fill="#ED7D31"/>
<path d="M612.20,137.10L614.40,139.30L612.20,141.50L610.00,139.30Z" fill="#ED7D31"/>
<path d="M620.70,129.90L622.90,132.10L620.70,134.30L618.50,132.10Z" fill="#ED7D31"/>
<path d="M630.00,122.60L632.20,124.80L630.00,127.00L627.80,124.80Z" fill="#ED7D31"/>
<svg x="564.4" y="117.9" width="67.10000000000002" height="64.29999999999998" viewBox="564.4 117.9 67.10000000000002 64.29999999999998" overflow="visible">
<polyline points="565.90,180.40 570.40,175.70 574.70,171.00 579.00,166.30 583.50,161.60 588.40,157.80 592.50,153.20 594.40,150.50 596.70,148.60 598.50,147.20 602.80,142.80 612.20,133.50 620.70,124.10 627.00,117.90" fill="none" stroke="#002060" stroke-width="1.6" stroke-linejoin="round"/>
</svg>
<rect x="563.30" y="177.80" width="5.2" height="5.2" fill="#002060"/>
<rect x="567.80" y="173.10" width="5.2" height="5.2" fill="#002060"/>
<rect x="572.10" y="168.40" width="5.2" height="5.2" fill="#002060"/>
<rect x="576.40" y="163.70" width="5.2" height="5.2" fill="#002060"/>
<rect x="580.90" y="159.00" width="5.2" height="5.2" fill="#002060"/>
<rect x="585.80" y="155.20" width="5.2" height="5.2" fill="#002060"/>
<rect x="589.90" y="150.60" width="5.2" height="5.2" fill="#002060"/>
<rect x="591.80" y="147.90" width="5.2" height="5.2" fill="#002060"/>
<rect x="594.10" y="146.00" width="5.2" height="5.2" fill="#002060"/>
<rect x="595.90" y="144.60" width="5.2" height="5.2" fill="#002060"/>
<rect x="600.20" y="140.20" width="5.2" height="5.2" fill="#002060"/>
<rect x="609.60" y="130.90" width="5.2" height="5.2" fill="#002060"/>
<rect x="618.10" y="121.50" width="5.2" height="5.2" fill="#002060"/>
<rect x="564.4" y="117.9" width="67.10000000000002" height="64.29999999999998" fill="none" stroke="#000" stroke-width="1.4"/>
<line x1="581.20" y1="147.00" x2="581.20" y2="180.00" stroke="#ff1f1f" stroke-width="1.2" stroke-dasharray="1.2,1.2"/>
<text x="572.20" y="143.90" font-size="8.7" text-anchor="start" fill="#ff1f1f">360 h</text>
<text x="536" y="148.2" font-size="10" fill="#000" text-anchor="middle" transform="rotate(-90 536 148.2)">Q<tspan font-size="6.4" dy="2.4">MeOH</tspan><tspan dy="-2.4"> (g g</tspan><tspan font-size="6.4" dy="2.4">cat.</tspan><tspan font-size="6.4" dy="-6">−1</tspan><tspan dy="3.6">)</tspan></text>
<line x1="36.6" y1="249.6" x2="149.2" y2="249.6" stroke="#000" stroke-width="1.6"/>
<line x1="36.6" y1="248.79999999999998" x2="36.6" y2="447.5" stroke="#595959" stroke-width="1.3"/>
<line x1="149.2" y1="248.79999999999998" x2="149.2" y2="448.3" stroke="#00B050" stroke-width="1.5"/>
<line x1="36.0" y1="447.5" x2="149.2" y2="447.5" stroke="#000" stroke-width="1.6"/>
<line x1="33.60" y1="447.50" x2="36.60" y2="447.50" stroke="#595959" stroke-width="1.2"/>
<text x="27.70" y="450.45" font-size="10" text-anchor="end" fill="#595959">0</text>
<line x1="33.60" y1="407.92" x2="36.60" y2="407.92" stroke="#595959" stroke-width="1.2"/>
<text x="27.70" y="410.87" font-size="10" text-anchor="end" fill="#595959">5</text>
<line x1="33.60" y1="368.34" x2="36.60" y2="368.34" stroke="#595959" stroke-width="1.2"/>
<text x="27.70" y="371.29" font-size="10" text-anchor="end" fill="#595959">10</text>
<line x1="33.60" y1="328.76" x2="36.60" y2="328.76" stroke="#595959" stroke-width="1.2"/>
<text x="27.70" y="331.71" font-size="10" text-anchor="end" fill="#595959">15</text>
<line x1="33.60" y1="289.18" x2="36.60" y2="289.18" stroke="#595959" stroke-width="1.2"/>
<text x="27.70" y="292.13" font-size="10" text-anchor="end" fill="#595959">20</text>
<line x1="33.60" y1="249.60" x2="36.60" y2="249.60" stroke="#595959" stroke-width="1.2"/>
<text x="27.70" y="252.55" font-size="10" text-anchor="end" fill="#595959">25</text>
<line x1="149.20" y1="447.50" x2="152.20" y2="447.50" stroke="#00B050" stroke-width="1.2"/>
<text x="158.20" y="450.45" font-size="10" text-anchor="start" fill="#00B050">0</text>
<line x1="149.20" y1="407.92" x2="152.20" y2="407.92" stroke="#00B050" stroke-width="1.2"/>
<text x="158.20" y="410.87" font-size="10" text-anchor="start" fill="#00B050">20</text>
<line x1="149.20" y1="368.34" x2="152.20" y2="368.34" stroke="#00B050" stroke-width="1.2"/>
<text x="158.20" y="371.29" font-size="10" text-anchor="start" fill="#00B050">40</text>
<line x1="149.20" y1="328.76" x2="152.20" y2="328.76" stroke="#00B050" stroke-width="1.2"/>
<text x="158.20" y="331.71" font-size="10" text-anchor="start" fill="#00B050">60</text>
<line x1="149.20" y1="289.18" x2="152.20" y2="289.18" stroke="#00B050" stroke-width="1.2"/>
<text x="158.20" y="292.13" font-size="10" text-anchor="start" fill="#00B050">80</text>
<line x1="149.20" y1="249.60" x2="152.20" y2="249.60" stroke="#00B050" stroke-width="1.2"/>
<text x="158.20" y="252.55" font-size="10" text-anchor="start" fill="#00B050">100</text>
<line x1="36.60" y1="447.50" x2="36.60" y2="450.50" stroke="#000" stroke-width="1.4"/>
<text x="36.60" y="462.40" font-size="10" text-anchor="middle" fill="#000">0</text>
<line x1="74.13" y1="447.50" x2="74.13" y2="450.50" stroke="#000" stroke-width="1.4"/>
<text x="74.13" y="462.40" font-size="10" text-anchor="middle" fill="#000">60</text>
<line x1="111.67" y1="447.50" x2="111.67" y2="450.50" stroke="#000" stroke-width="1.4"/>
<text x="111.67" y="462.40" font-size="10" text-anchor="middle" fill="#000">120</text>
<line x1="149.20" y1="447.50" x2="149.20" y2="450.50" stroke="#000" stroke-width="1.4"/>
<text x="149.20" y="462.40" font-size="10" text-anchor="middle" fill="#000">180</text>
<text x="92.90" y="477.90" font-size="10" text-anchor="middle" fill="#000">Time-on-stream (h)</text>
<text x="93" y="263.6" font-size="9.7" text-anchor="middle">ZnZrO<tspan font-size="6.5" dy="2" font-style="italic">x</tspan></text>
<line x1="203.0" y1="249.6" x2="316.0" y2="249.6" stroke="#000" stroke-width="1.6"/>
<line x1="203.0" y1="248.79999999999998" x2="203.0" y2="447.5" stroke="#595959" stroke-width="1.3"/>
<line x1="316.0" y1="248.79999999999998" x2="316.0" y2="448.3" stroke="#00B050" stroke-width="1.5"/>
<line x1="202.4" y1="447.5" x2="316.0" y2="447.5" stroke="#000" stroke-width="1.6"/>
<line x1="200.00" y1="447.50" x2="203.00" y2="447.50" stroke="#595959" stroke-width="1.2"/>
<text x="194.10" y="450.45" font-size="10" text-anchor="end" fill="#595959">0</text>
<line x1="200.00" y1="407.92" x2="203.00" y2="407.92" stroke="#595959" stroke-width="1.2"/>
<text x="194.10" y="410.87" font-size="10" text-anchor="end" fill="#595959">5</text>
<line x1="200.00" y1="368.34" x2="203.00" y2="368.34" stroke="#595959" stroke-width="1.2"/>
<text x="194.10" y="371.29" font-size="10" text-anchor="end" fill="#595959">10</text>
<line x1="200.00" y1="328.76" x2="203.00" y2="328.76" stroke="#595959" stroke-width="1.2"/>
<text x="194.10" y="331.71" font-size="10" text-anchor="end" fill="#595959">15</text>
<line x1="200.00" y1="289.18" x2="203.00" y2="289.18" stroke="#595959" stroke-width="1.2"/>
<text x="194.10" y="292.13" font-size="10" text-anchor="end" fill="#595959">20</text>
<line x1="200.00" y1="249.60" x2="203.00" y2="249.60" stroke="#595959" stroke-width="1.2"/>
<text x="194.10" y="252.55" font-size="10" text-anchor="end" fill="#595959">25</text>
<line x1="316.00" y1="447.50" x2="319.00" y2="447.50" stroke="#00B050" stroke-width="1.2"/>
<text x="325.00" y="450.45" font-size="10" text-anchor="start" fill="#00B050">0</text>
<line x1="316.00" y1="407.92" x2="319.00" y2="407.92" stroke="#00B050" stroke-width="1.2"/>
<text x="325.00" y="410.87" font-size="10" text-anchor="start" fill="#00B050">20</text>
<line x1="316.00" y1="368.34" x2="319.00" y2="368.34" stroke="#00B050" stroke-width="1.2"/>
<text x="325.00" y="371.29" font-size="10" text-anchor="start" fill="#00B050">40</text>
<line x1="316.00" y1="328.76" x2="319.00" y2="328.76" stroke="#00B050" stroke-width="1.2"/>
<text x="325.00" y="331.71" font-size="10" text-anchor="start" fill="#00B050">60</text>
<line x1="316.00" y1="289.18" x2="319.00" y2="289.18" stroke="#00B050" stroke-width="1.2"/>
<text x="325.00" y="292.13" font-size="10" text-anchor="start" fill="#00B050">80</text>
<line x1="316.00" y1="249.60" x2="319.00" y2="249.60" stroke="#00B050" stroke-width="1.2"/>
<text x="325.00" y="252.55" font-size="10" text-anchor="start" fill="#00B050">100</text>
<line x1="203.00" y1="447.50" x2="203.00" y2="450.50" stroke="#000" stroke-width="1.4"/>
<text x="203.00" y="462.40" font-size="10" text-anchor="middle" fill="#000">0</text>
<line x1="225.60" y1="447.50" x2="225.60" y2="450.50" stroke="#000" stroke-width="1.4"/>
<text x="225.60" y="462.40" font-size="10" text-anchor="middle" fill="#000">50</text>
<line x1="248.20" y1="447.50" x2="248.20" y2="450.50" stroke="#000" stroke-width="1.4"/>
<text x="248.20" y="462.40" font-size="10" text-anchor="middle" fill="#000">100</text>
<line x1="270.80" y1="447.50" x2="270.80" y2="450.50" stroke="#000" stroke-width="1.4"/>
<text x="270.80" y="462.40" font-size="10" text-anchor="middle" fill="#000">150</text>
<line x1="293.40" y1="447.50" x2="293.40" y2="450.50" stroke="#000" stroke-width="1.4"/>
<text x="293.40" y="462.40" font-size="10" text-anchor="middle" fill="#000">200</text>
<line x1="316.00" y1="447.50" x2="316.00" y2="450.50" stroke="#000" stroke-width="1.4"/>
<text x="316.00" y="462.40" font-size="10" text-anchor="middle" fill="#000">250</text>
<text x="259.50" y="477.90" font-size="10" text-anchor="middle" fill="#000">Time-on-stream (h)</text>
<text x="259.8" y="263.6" font-size="9.7" text-anchor="middle" fill="#008080">Pd/ZnZrO<tspan font-size="6.5" dy="2" font-style="italic">x</tspan></text>
<line x1="370.2" y1="249.6" x2="483.2" y2="249.6" stroke="#000" stroke-width="1.6"/>
<line x1="370.2" y1="248.79999999999998" x2="370.2" y2="447.5" stroke="#595959" stroke-width="1.3"/>
<line x1="483.2" y1="248.79999999999998" x2="483.2" y2="448.3" stroke="#00B050" stroke-width="1.5"/>
<line x1="369.59999999999997" y1="447.5" x2="483.2" y2="447.5" stroke="#000" stroke-width="1.6"/>
<line x1="367.20" y1="447.50" x2="370.20" y2="447.50" stroke="#595959" stroke-width="1.2"/>
<text x="361.30" y="450.45" font-size="10" text-anchor="end" fill="#595959">0</text>
<line x1="367.20" y1="407.92" x2="370.20" y2="407.92" stroke="#595959" stroke-width="1.2"/>
<text x="361.30" y="410.87" font-size="10" text-anchor="end" fill="#595959">5</text>
<line x1="367.20" y1="368.34" x2="370.20" y2="368.34" stroke="#595959" stroke-width="1.2"/>
<text x="361.30" y="371.29" font-size="10" text-anchor="end" fill="#595959">10</text>
<line x1="367.20" y1="328.76" x2="370.20" y2="328.76" stroke="#595959" stroke-width="1.2"/>
<text x="361.30" y="331.71" font-size="10" text-anchor="end" fill="#595959">15</text>
<line x1="367.20" y1="289.18" x2="370.20" y2="289.18" stroke="#595959" stroke-width="1.2"/>
<text x="361.30" y="292.13" font-size="10" text-anchor="end" fill="#595959">20</text>
<line x1="367.20" y1="249.60" x2="370.20" y2="249.60" stroke="#595959" stroke-width="1.2"/>
<text x="361.30" y="252.55" font-size="10" text-anchor="end" fill="#595959">25</text>
<line x1="483.20" y1="447.50" x2="486.20" y2="447.50" stroke="#00B050" stroke-width="1.2"/>
<text x="492.20" y="450.45" font-size="10" text-anchor="start" fill="#00B050">0</text>
<line x1="483.20" y1="407.92" x2="486.20" y2="407.92" stroke="#00B050" stroke-width="1.2"/>
<text x="492.20" y="410.87" font-size="10" text-anchor="start" fill="#00B050">20</text>
<line x1="483.20" y1="368.34" x2="486.20" y2="368.34" stroke="#00B050" stroke-width="1.2"/>
<text x="492.20" y="371.29" font-size="10" text-anchor="start" fill="#00B050">40</text>
<line x1="483.20" y1="328.76" x2="486.20" y2="328.76" stroke="#00B050" stroke-width="1.2"/>
<text x="492.20" y="331.71" font-size="10" text-anchor="start" fill="#00B050">60</text>
<line x1="483.20" y1="289.18" x2="486.20" y2="289.18" stroke="#00B050" stroke-width="1.2"/>
<text x="492.20" y="292.13" font-size="10" text-anchor="start" fill="#00B050">80</text>
<line x1="483.20" y1="249.60" x2="486.20" y2="249.60" stroke="#00B050" stroke-width="1.2"/>
<text x="492.20" y="252.55" font-size="10" text-anchor="start" fill="#00B050">100</text>
<line x1="370.20" y1="447.50" x2="370.20" y2="450.50" stroke="#000" stroke-width="1.4"/>
<text x="370.20" y="462.40" font-size="10" text-anchor="middle" fill="#000">0</text>
<line x1="407.87" y1="447.50" x2="407.87" y2="450.50" stroke="#000" stroke-width="1.4"/>
<text x="407.87" y="462.40" font-size="10" text-anchor="middle" fill="#000">200</text>
<line x1="445.53" y1="447.50" x2="445.53" y2="450.50" stroke="#000" stroke-width="1.4"/>
<text x="445.53" y="462.40" font-size="10" text-anchor="middle" fill="#000">400</text>
<line x1="483.20" y1="447.50" x2="483.20" y2="450.50" stroke="#000" stroke-width="1.4"/>
<text x="483.20" y="462.40" font-size="10" text-anchor="middle" fill="#000">600</text>
<text x="426.70" y="477.90" font-size="10" text-anchor="middle" fill="#000">Time-on-stream (h)</text>
<text x="426.2" y="263.6" font-size="9.7" text-anchor="middle" fill="#002060">Pd/CNT+ZnZrO<tspan font-size="6.5" dy="2" font-style="italic">x</tspan></text>
<line x1="536.8" y1="249.6" x2="650.0" y2="249.6" stroke="#000" stroke-width="1.6"/>
<line x1="536.8" y1="248.79999999999998" x2="536.8" y2="447.5" stroke="#595959" stroke-width="1.3"/>
<line x1="650.0" y1="248.79999999999998" x2="650.0" y2="448.3" stroke="#00B050" stroke-width="1.5"/>
<line x1="536.1999999999999" y1="447.5" x2="650.0" y2="447.5" stroke="#000" stroke-width="1.6"/>
<line x1="533.80" y1="447.50" x2="536.80" y2="447.50" stroke="#595959" stroke-width="1.2"/>
<text x="527.90" y="450.45" font-size="10" text-anchor="end" fill="#595959">0</text>
<line x1="533.80" y1="419.23" x2="536.80" y2="419.23" stroke="#595959" stroke-width="1.2"/>
<text x="527.90" y="422.18" font-size="10" text-anchor="end" fill="#595959">5</text>
<line x1="533.80" y1="390.96" x2="536.80" y2="390.96" stroke="#595959" stroke-width="1.2"/>
<text x="527.90" y="393.91" font-size="10" text-anchor="end" fill="#595959">10</text>
<line x1="533.80" y1="362.69" x2="536.80" y2="362.69" stroke="#595959" stroke-width="1.2"/>
<text x="527.90" y="365.64" font-size="10" text-anchor="end" fill="#595959">15</text>
<line x1="533.80" y1="334.41" x2="536.80" y2="334.41" stroke="#595959" stroke-width="1.2"/>
<text x="527.90" y="337.36" font-size="10" text-anchor="end" fill="#595959">20</text>
<line x1="533.80" y1="306.14" x2="536.80" y2="306.14" stroke="#595959" stroke-width="1.2"/>
<text x="527.90" y="309.09" font-size="10" text-anchor="end" fill="#595959">25</text>
<line x1="533.80" y1="277.87" x2="536.80" y2="277.87" stroke="#595959" stroke-width="1.2"/>
<text x="527.90" y="280.82" font-size="10" text-anchor="end" fill="#595959">30</text>
<line x1="533.80" y1="249.60" x2="536.80" y2="249.60" stroke="#595959" stroke-width="1.2"/>
<text x="527.90" y="252.55" font-size="10" text-anchor="end" fill="#595959">35</text>
<line x1="650.00" y1="447.50" x2="653.00" y2="447.50" stroke="#00B050" stroke-width="1.2"/>
<text x="659.00" y="450.45" font-size="10" text-anchor="start" fill="#00B050">0</text>
<line x1="650.00" y1="407.92" x2="653.00" y2="407.92" stroke="#00B050" stroke-width="1.2"/>
<text x="659.00" y="410.87" font-size="10" text-anchor="start" fill="#00B050">20</text>
<line x1="650.00" y1="368.34" x2="653.00" y2="368.34" stroke="#00B050" stroke-width="1.2"/>
<text x="659.00" y="371.29" font-size="10" text-anchor="start" fill="#00B050">40</text>
<line x1="650.00" y1="328.76" x2="653.00" y2="328.76" stroke="#00B050" stroke-width="1.2"/>
<text x="659.00" y="331.71" font-size="10" text-anchor="start" fill="#00B050">60</text>
<line x1="650.00" y1="289.18" x2="653.00" y2="289.18" stroke="#00B050" stroke-width="1.2"/>
<text x="659.00" y="292.13" font-size="10" text-anchor="start" fill="#00B050">80</text>
<line x1="650.00" y1="249.60" x2="653.00" y2="249.60" stroke="#00B050" stroke-width="1.2"/>
<text x="659.00" y="252.55" font-size="10" text-anchor="start" fill="#00B050">100</text>
<line x1="536.80" y1="447.50" x2="536.80" y2="450.50" stroke="#000" stroke-width="1.4"/>
<text x="536.80" y="462.40" font-size="10" text-anchor="middle" fill="#000">0</text>
<line x1="574.53" y1="447.50" x2="574.53" y2="450.50" stroke="#000" stroke-width="1.4"/>
<text x="574.53" y="462.40" font-size="10" text-anchor="middle" fill="#000">200</text>
<line x1="612.27" y1="447.50" x2="612.27" y2="450.50" stroke="#000" stroke-width="1.4"/>
<text x="612.27" y="462.40" font-size="10" text-anchor="middle" fill="#000">400</text>
<line x1="650.00" y1="447.50" x2="650.00" y2="450.50" stroke="#000" stroke-width="1.4"/>
<text x="650.00" y="462.40" font-size="10" text-anchor="middle" fill="#000">600</text>
<text x="593.40" y="477.90" font-size="10" text-anchor="middle" fill="#000">Time-on-stream (h)</text>
<text x="592.8" y="263.6" font-size="9.7" text-anchor="middle" fill="#ED7D31">Comm. Cu/ZnO/Al<tspan font-size="6.5" dy="2">2</tspan><tspan dy="-2">O</tspan><tspan font-size="6.5" dy="2">3</tspan></text>
<text x="8.2" y="348.8" font-size="10" fill="#595959" text-anchor="middle" transform="rotate(-90 8.2 348.8)">CO<tspan font-size="6.5" dy="2">2</tspan><tspan dy="-2"> conversion%</tspan></text>
<text x="678.60" y="348.40" font-size="9.65" text-anchor="middle" fill="#00B050" transform="rotate(90 678.6 348.4)">MeOH selectivity%</text>
<path d="M37.00,274.90L41.20,283.50L32.80,283.50Z" fill="#00B050"/>
<path d="M39.50,273.82L43.70,282.42L35.30,282.42Z" fill="#00B050"/>
<path d="M42.00,274.48L46.20,283.08L37.80,283.08Z" fill="#00B050"/>
<path d="M44.00,273.99L48.20,282.59L39.80,282.59Z" fill="#00B050"/>
<path d="M46.00,274.69L50.20,283.29L41.80,283.29Z" fill="#00B050"/>
<path d="M48.00,273.47L52.20,282.07L43.80,282.07Z" fill="#00B050"/>
<path d="M50.00,274.60L54.20,283.20L45.80,283.20Z" fill="#00B050"/>
<path d="M52.00,273.48L56.20,282.08L47.80,282.08Z" fill="#00B050"/>
<path d="M54.00,274.10L58.20,282.70L49.80,282.70Z" fill="#00B050"/>
<path d="M56.00,273.64L60.20,282.24L51.80,282.24Z" fill="#00B050"/>
<path d="M58.00,274.38L62.20,282.98L53.80,282.98Z" fill="#00B050"/>
<path d="M60.00,273.20L64.20,281.80L55.80,281.80Z" fill="#00B050"/>
<path d="M62.00,274.30L66.20,282.90L57.80,282.90Z" fill="#00B050"/>
<path d="M64.00,273.12L68.20,281.72L59.80,281.72Z" fill="#00B050"/>
<path d="M66.00,273.68L70.20,282.28L61.80,282.28Z" fill="#00B050"/>
<path d="M68.00,273.16L72.20,281.76L63.80,281.76Z" fill="#00B050"/>
<path d="M70.00,273.84L74.20,282.44L65.80,282.44Z" fill="#00B050"/>
<path d="M72.00,272.66L76.20,281.26L67.80,281.26Z" fill="#00B050"/>
<path d="M74.00,273.82L78.20,282.42L69.80,282.42Z" fill="#00B050"/>
<path d="M76.00,272.70L80.20,281.30L71.80,281.30Z" fill="#00B050"/>
<path d="M78.00,273.32L82.20,281.92L73.80,281.92Z" fill="#00B050"/>
<path d="M80.00,272.86L84.20,281.46L75.80,281.46Z" fill="#00B050"/>
<path d="M82.10,273.63L86.30,282.23L77.90,282.23Z" fill="#00B050"/>
<path d="M84.20,272.48L88.40,281.08L80.00,281.08Z" fill="#00B050"/>
<path d="M86.30,273.67L90.50,282.27L82.10,282.27Z" fill="#00B050"/>
<path d="M88.40,272.58L92.60,281.18L84.20,281.18Z" fill="#00B050"/>
<path d="M90.50,273.23L94.70,281.83L86.30,281.83Z" fill="#00B050"/>
<path d="M92.60,272.80L96.80,281.40L88.40,281.40Z" fill="#00B050"/>
<path d="M94.70,273.57L98.90,282.17L90.50,282.17Z" fill="#00B050"/>
<path d="M96.80,272.42L101.00,281.02L92.60,281.02Z" fill="#00B050"/>
<path d="M98.90,273.61L103.10,282.21L94.70,282.21Z" fill="#00B050"/>
<path d="M101.00,272.52L105.20,281.12L96.80,281.12Z" fill="#00B050"/>
<path d="M63.30,271.50L67.50,280.10L59.10,280.10Z" fill="#00B050"/>
<path d="M106.70,272.90L110.90,281.50L102.50,281.50Z" fill="#00B050"/>
<path d="M114.30,272.50L118.50,281.10L110.10,281.10Z" fill="#00B050"/>
<path d="M121.60,272.90L125.80,281.50L117.40,281.50Z" fill="#00B050"/>
<path d="M129.30,272.90L133.50,281.50L125.10,281.50Z" fill="#00B050"/>
<path d="M136.60,271.80L140.80,280.60L132.40,280.60Z" fill="#00B050"/>
<circle cx="37.00" cy="387.05" r="4.4" fill="#505050"/>
<circle cx="39.30" cy="386.41" r="4.4" fill="#505050"/>
<circle cx="41.60" cy="386.79" r="4.4" fill="#505050"/>
<circle cx="43.90" cy="386.53" r="4.4" fill="#505050"/>
<circle cx="46.20" cy="386.98" r="4.4" fill="#505050"/>
<circle cx="48.50" cy="386.30" r="4.4" fill="#505050"/>
<circle cx="50.80" cy="386.99" r="4.4" fill="#505050"/>
<circle cx="53.10" cy="386.35" r="4.4" fill="#505050"/>
<circle cx="55.40" cy="386.73" r="4.4" fill="#505050"/>
<circle cx="57.70" cy="386.47" r="4.4" fill="#505050"/>
<circle cx="60.00" cy="386.92" r="4.4" fill="#505050"/>
<circle cx="62.22" cy="386.24" r="4.4" fill="#505050"/>
<circle cx="64.44" cy="386.93" r="4.4" fill="#505050"/>
<circle cx="66.67" cy="386.29" r="4.4" fill="#505050"/>
<circle cx="68.89" cy="386.66" r="4.4" fill="#505050"/>
<circle cx="71.11" cy="386.40" r="4.4" fill="#505050"/>
<circle cx="73.33" cy="386.85" r="4.4" fill="#505050"/>
<circle cx="75.56" cy="386.17" r="4.4" fill="#505050"/>
<circle cx="77.78" cy="386.86" r="4.4" fill="#505050"/>
<circle cx="80.00" cy="386.22" r="4.4" fill="#505050"/>
<circle cx="82.31" cy="386.58" r="4.4" fill="#505050"/>
<circle cx="84.62" cy="386.31" r="4.4" fill="#505050"/>
<circle cx="86.94" cy="386.74" r="4.4" fill="#505050"/>
<circle cx="89.25" cy="386.05" r="4.4" fill="#505050"/>
<circle cx="91.56" cy="386.73" r="4.4" fill="#505050"/>
<circle cx="93.88" cy="386.07" r="4.4" fill="#505050"/>
<circle cx="96.19" cy="386.43" r="4.4" fill="#505050"/>
<circle cx="98.50" cy="386.16" r="4.4" fill="#505050"/>
<circle cx="106.70" cy="386.00" r="4.4" fill="#505050"/>
<circle cx="114.30" cy="386.00" r="4.4" fill="#505050"/>
<circle cx="121.60" cy="386.00" r="4.4" fill="#505050"/>
<circle cx="129.30" cy="386.00" r="4.4" fill="#505050"/>
<circle cx="137.00" cy="386.00" r="4.4" fill="#505050"/>
<polyline points="62.00,382.50 62.00,370.60 43.00,370.60" fill="none" stroke="#404040" stroke-width="1.2" stroke-linejoin="round" stroke-dasharray="1.3,1.3" stroke-linejoin="miter"/>
<path d="M37.80,370.60 L43.00,367.80 L43.00,373.40 Z" fill="#404040"/>
<polyline points="122.50,286.30 122.50,298.20 142.30,298.20" fill="none" stroke="#00B050" stroke-width="1.2" stroke-linejoin="round" stroke-dasharray="1.3,1.3" stroke-linejoin="miter"/>
<path d="M147.50,298.20 L142.30,301.00 L142.30,295.40 Z" fill="#00B050"/>
<path d="M203.30,291.80L207.60,300.60L199.00,300.60Z" fill="#00B050"/>
<path d="M205.00,290.65L209.20,299.25L200.80,299.25Z" fill="#00B050"/>
<path d="M207.50,289.21L211.70,297.81L203.30,297.81Z" fill="#00B050"/>
<path d="M210.00,289.37L214.20,297.97L205.80,297.97Z" fill="#00B050"/>
<path d="M213.33,288.61L217.53,297.21L209.13,297.21Z" fill="#00B050"/>
<path d="M216.67,288.96L220.87,297.56L212.47,297.56Z" fill="#00B050"/>
<path d="M220.00,287.55L224.20,296.15L215.80,296.15Z" fill="#00B050"/>
<path d="M223.33,288.28L227.53,296.88L219.13,296.88Z" fill="#00B050"/>
<path d="M226.67,286.93L230.87,295.53L222.47,295.53Z" fill="#00B050"/>
<path d="M230.00,287.17L234.20,295.77L225.80,295.77Z" fill="#00B050"/>
<path d="M233.33,286.35L237.53,294.95L229.13,294.95Z" fill="#00B050"/>
<path d="M236.67,286.63L240.87,295.23L232.47,295.23Z" fill="#00B050"/>
<path d="M240.00,285.15L244.20,293.75L235.80,293.75Z" fill="#00B050"/>
<path d="M242.67,286.18L246.87,294.78L238.47,294.78Z" fill="#00B050"/>
<path d="M245.33,285.13L249.53,293.73L241.13,293.73Z" fill="#00B050"/>
<path d="M248.00,285.67L252.20,294.27L243.80,294.27Z" fill="#00B050"/>
<path d="M251.00,285.23L255.20,293.83L246.80,293.83Z" fill="#00B050"/>
<path d="M254.00,285.90L258.20,294.50L249.80,294.50Z" fill="#00B050"/>
<path d="M257.00,284.80L261.20,293.40L252.80,293.40Z" fill="#00B050"/>
<path d="M260.00,285.85L264.20,294.45L255.80,294.45Z" fill="#00B050"/>
<path d="M263.33,284.66L267.53,293.26L259.13,293.26Z" fill="#00B050"/>
<path d="M266.67,285.06L270.87,293.67L262.47,293.67Z" fill="#00B050"/>
<path d="M270.00,284.48L274.20,293.08L265.80,293.08Z" fill="#00B050"/>
<path d="M268.40,284.90L272.50,293.10L264.30,293.10Z" fill="#00B050"/>
<path d="M273.90,284.90L278.00,293.10L269.80,293.10Z" fill="#00B050"/>
<path d="M279.00,284.90L283.10,293.10L274.90,293.10Z" fill="#00B050"/>
<path d="M284.50,284.90L288.60,293.10L280.40,293.10Z" fill="#00B050"/>
<path d="M290.00,284.90L294.10,293.10L285.90,293.10Z" fill="#00B050"/>
<path d="M295.60,284.90L299.70,293.10L291.50,293.10Z" fill="#00B050"/>
<path d="M300.70,284.90L304.80,293.10L296.60,293.10Z" fill="#00B050"/>
<path d="M306.20,284.90L310.30,293.10L302.10,293.10Z" fill="#00B050"/>
<path d="M311.70,284.90L315.80,293.10L307.60,293.10Z" fill="#00B050"/>
<path d="M205.00,291.60L209.20,300.00L200.80,300.00Z" fill="#00B050"/>
<path d="M208.50,291.10L212.70,299.50L204.30,299.50Z" fill="#00B050"/>
<path d="M212.00,290.60L216.20,299.00L207.80,299.00Z" fill="#00B050"/>
<path d="M214.67,290.20L218.87,298.60L210.47,298.60Z" fill="#00B050"/>
<path d="M217.33,289.80L221.53,298.20L213.13,298.20Z" fill="#00B050"/>
<path d="M220.00,289.40L224.20,297.80L215.80,297.80Z" fill="#00B050"/>
<path d="M223.33,289.03L227.53,297.43L219.13,297.43Z" fill="#00B050"/>
<path d="M226.67,288.67L230.87,297.07L222.47,297.07Z" fill="#00B050"/>
<path d="M230.00,288.30L234.20,296.70L225.80,296.70Z" fill="#00B050"/>
<path d="M233.33,287.87L237.53,296.27L229.13,296.27Z" fill="#00B050"/>
<path d="M236.67,287.43L240.87,295.83L232.47,295.83Z" fill="#00B050"/>
<path d="M240.00,287.00L244.20,295.40L235.80,295.40Z" fill="#00B050"/>
<path d="M243.33,286.87L247.53,295.27L239.13,295.27Z" fill="#00B050"/>
<path d="M246.67,286.73L250.87,295.13L242.47,295.13Z" fill="#00B050"/>
<path d="M250.00,286.60L254.20,295.00L245.80,295.00Z" fill="#00B050"/>
<path d="M253.00,286.45L257.20,294.85L248.80,294.85Z" fill="#00B050"/>
<path d="M256.00,286.30L260.20,294.70L251.80,294.70Z" fill="#00B050"/>
<path d="M259.00,286.15L263.20,294.55L254.80,294.55Z" fill="#00B050"/>
<path d="M262.00,286.00L266.20,294.40L257.80,294.40Z" fill="#00B050"/>
<circle cx="203.50" cy="354.50" r="4.4" fill="#505050"/>
<circle cx="206.75" cy="353.85" r="4.4" fill="#505050"/>
<circle cx="210.00" cy="354.65" r="4.4" fill="#505050"/>
<circle cx="212.67" cy="354.80" r="4.4" fill="#505050"/>
<circle cx="215.33" cy="355.95" r="4.4" fill="#505050"/>
<circle cx="218.00" cy="355.50" r="4.4" fill="#505050"/>
<circle cx="220.33" cy="356.47" r="4.4" fill="#505050"/>
<circle cx="222.67" cy="355.53" r="4.4" fill="#505050"/>
<circle cx="225.00" cy="356.05" r="4.4" fill="#505050"/>
<circle cx="227.50" cy="355.15" r="4.4" fill="#505050"/>
<circle cx="230.00" cy="355.25" r="4.4" fill="#505050"/>
<circle cx="232.50" cy="354.10" r="4.4" fill="#505050"/>
<circle cx="235.00" cy="354.90" r="4.4" fill="#505050"/>
<circle cx="237.50" cy="353.80" r="4.4" fill="#505050"/>
<circle cx="240.00" cy="354.15" r="4.4" fill="#505050"/>
<circle cx="242.50" cy="353.70" r="4.4" fill="#505050"/>
<circle cx="245.00" cy="354.25" r="4.4" fill="#505050"/>
<circle cx="247.50" cy="353.20" r="4.4" fill="#505050"/>
<circle cx="250.00" cy="354.10" r="4.4" fill="#505050"/>
<circle cx="252.67" cy="353.33" r="4.4" fill="#505050"/>
<circle cx="255.33" cy="354.02" r="4.4" fill="#505050"/>
<circle cx="258.00" cy="353.80" r="4.4" fill="#505050"/>
<circle cx="260.00" cy="355.20" r="4.4" fill="#505050"/>
<circle cx="262.00" cy="355.00" r="4.4" fill="#505050"/>
<circle cx="265.00" cy="356.90" r="4.4" fill="#505050"/>
<circle cx="267.50" cy="355.98" r="4.4" fill="#505050"/>
<circle cx="270.00" cy="356.52" r="4.4" fill="#505050"/>
<circle cx="272.50" cy="356.15" r="4.4" fill="#505050"/>
<circle cx="275.00" cy="356.78" r="4.4" fill="#505050"/>
<circle cx="277.50" cy="355.82" r="4.4" fill="#505050"/>
<circle cx="280.00" cy="356.80" r="4.4" fill="#505050"/>
<circle cx="282.50" cy="356.12" r="4.4" fill="#505050"/>
<circle cx="285.00" cy="356.90" r="4.4" fill="#505050"/>
<circle cx="287.50" cy="356.78" r="4.4" fill="#505050"/>
<circle cx="290.00" cy="357.65" r="4.4" fill="#505050"/>
<circle cx="292.50" cy="356.62" r="4.4" fill="#505050"/>
<circle cx="295.00" cy="357.55" r="4.4" fill="#505050"/>
<circle cx="297.50" cy="356.57" r="4.4" fill="#505050"/>
<circle cx="300.00" cy="357.05" r="4.4" fill="#505050"/>
<circle cx="302.82" cy="356.70" r="4.4" fill="#505050"/>
<circle cx="305.65" cy="357.35" r="4.4" fill="#505050"/>
<circle cx="308.48" cy="356.40" r="4.4" fill="#505050"/>
<circle cx="311.30" cy="357.40" r="4.4" fill="#505050"/>
<polyline points="229.70,349.00 229.70,339.00 210.60,339.00" fill="none" stroke="#404040" stroke-width="1.2" stroke-linejoin="round" stroke-dasharray="1.3,1.3" stroke-linejoin="miter"/>
<path d="M205.40,339.00 L210.60,336.20 L210.60,341.80 Z" fill="#404040"/>
<polyline points="289.50,297.80 289.50,309.40 308.80,309.40" fill="none" stroke="#00B050" stroke-width="1.2" stroke-linejoin="round" stroke-dasharray="1.3,1.3" stroke-linejoin="miter"/>
<path d="M314.00,309.40 L308.80,312.20 L308.80,306.60 Z" fill="#00B050"/>
<path d="M371.00,322.60L375.30,331.40L366.70,331.40Z" fill="#00B050"/>
<path d="M370.50,322.20L374.70,330.80L366.30,330.80Z" fill="#00B050"/>
<path d="M372.50,320.90L376.70,329.50L368.30,329.50Z" fill="#00B050"/>
<path d="M374.50,319.90L378.70,328.50L370.30,328.50Z" fill="#00B050"/>
<path d="M376.50,319.00L380.70,327.60L372.30,327.60Z" fill="#00B050"/>
<path d="M378.50,318.30L382.70,326.90L374.30,326.90Z" fill="#00B050"/>
<path d="M373.00,321.40L377.20,330.00L368.80,330.00Z" fill="#00B050"/>
<path d="M376.00,317.74L380.20,326.34L371.80,326.34Z" fill="#00B050"/>
<path d="M378.00,317.71L382.20,326.31L373.80,326.31Z" fill="#00B050"/>
<path d="M380.00,316.42L384.20,325.02L375.80,325.02Z" fill="#00B050"/>
<path d="M382.50,317.00L386.70,325.60L378.30,325.60Z" fill="#00B050"/>
<path d="M385.00,315.33L389.20,323.93L380.80,323.93Z" fill="#00B050"/>
<path d="M387.50,316.40L391.70,325.00L383.30,325.00Z" fill="#00B050"/>
<path d="M390.00,314.81L394.20,323.41L385.80,323.41Z" fill="#00B050"/>
<path d="M392.50,315.24L396.70,323.84L388.30,323.84Z" fill="#00B050"/>
<path d="M395.00,314.42L399.20,323.02L390.80,323.02Z" fill="#00B050"/>
<path d="M397.50,315.13L401.70,323.73L393.30,323.73Z" fill="#00B050"/>
<path d="M400.00,313.60L404.20,322.20L395.80,322.20Z" fill="#00B050"/>
<path d="M402.50,314.80L406.70,323.40L398.30,323.40Z" fill="#00B050"/>
<path d="M405.00,313.34L409.20,321.94L400.80,321.94Z" fill="#00B050"/>
<path d="M407.50,313.91L411.70,322.51L403.30,322.51Z" fill="#00B050"/>
<path d="M410.00,313.22L414.20,321.82L405.80,321.82Z" fill="#00B050"/>
<path d="M412.50,314.03L416.70,322.63L408.30,322.63Z" fill="#00B050"/>
<path d="M415.00,312.60L419.20,321.20L410.80,321.20Z" fill="#00B050"/>
<path d="M417.50,313.90L421.70,322.50L413.30,322.50Z" fill="#00B050"/>
<path d="M420.00,312.54L424.20,321.14L415.80,321.14Z" fill="#00B050"/>
<path d="M422.50,313.21L426.70,321.81L418.30,321.81Z" fill="#00B050"/>
<path d="M425.00,312.62L429.20,321.22L420.80,321.22Z" fill="#00B050"/>
<path d="M427.50,313.43L431.70,322.03L423.30,322.03Z" fill="#00B050"/>
<path d="M430.00,312.00L434.20,320.60L425.80,320.60Z" fill="#00B050"/>
<path d="M432.71,313.29L436.91,321.89L428.51,321.89Z" fill="#00B050"/>
<path d="M435.43,311.91L439.63,320.51L431.23,320.51Z" fill="#00B050"/>
<path d="M438.14,312.57L442.34,321.17L433.94,321.17Z" fill="#00B050"/>
<path d="M440.86,311.96L445.06,320.56L436.66,320.56Z" fill="#00B050"/>
<path d="M443.57,312.76L447.77,321.36L439.37,321.36Z" fill="#00B050"/>
<path d="M446.29,311.31L450.49,319.91L442.09,319.91Z" fill="#00B050"/>
<path d="M449.00,312.60L453.20,321.20L444.80,321.20Z" fill="#00B050"/>
<path d="M454.20,311.30L458.50,319.50L449.90,319.50Z" fill="#00B050"/>
<path d="M458.60,311.30L462.90,319.50L454.30,319.50Z" fill="#00B050"/>
<path d="M463.40,311.30L467.70,319.50L459.10,319.50Z" fill="#00B050"/>
<path d="M467.70,311.30L472.00,319.50L463.40,319.50Z" fill="#00B050"/>
<path d="M472.10,311.30L476.40,319.50L467.80,319.50Z" fill="#00B050"/>
<path d="M476.90,311.30L481.20,319.50L472.60,319.50Z" fill="#00B050"/>
<path d="M481.80,311.30L486.10,319.50L477.50,319.50Z" fill="#00B050"/>
<circle cx="370.40" cy="299.40" r="4.6" fill="#505050"/>
<circle cx="371.50" cy="293.94" r="4.6" fill="#505050"/>
<circle cx="374.00" cy="291.71" r="4.6" fill="#505050"/>
<circle cx="376.00" cy="290.22" r="4.6" fill="#505050"/>
<circle cx="378.00" cy="290.13" r="4.6" fill="#505050"/>
<circle cx="379.75" cy="288.73" r="4.6" fill="#505050"/>
<circle cx="381.50" cy="290.05" r="4.6" fill="#505050"/>
<circle cx="383.25" cy="288.71" r="4.6" fill="#505050"/>
<circle cx="385.00" cy="289.41" r="4.6" fill="#505050"/>
<circle cx="386.88" cy="289.01" r="4.6" fill="#505050"/>
<circle cx="388.75" cy="290.00" r="4.6" fill="#505050"/>
<circle cx="390.62" cy="288.76" r="4.6" fill="#505050"/>
<circle cx="392.50" cy="290.25" r="4.6" fill="#505050"/>
<circle cx="394.38" cy="289.08" r="4.6" fill="#505050"/>
<circle cx="396.25" cy="289.93" r="4.6" fill="#505050"/>
<circle cx="398.12" cy="289.53" r="4.6" fill="#505050"/>
<circle cx="400.00" cy="290.53" r="4.6" fill="#505050"/>
<circle cx="402.00" cy="289.25" r="4.6" fill="#505050"/>
<circle cx="404.00" cy="290.70" r="4.6" fill="#505050"/>
<circle cx="406.00" cy="289.49" r="4.6" fill="#505050"/>
<circle cx="408.00" cy="290.31" r="4.6" fill="#505050"/>
<circle cx="410.00" cy="289.87" r="4.6" fill="#505050"/>
<circle cx="412.00" cy="290.83" r="4.6" fill="#505050"/>
<circle cx="414.00" cy="289.55" r="4.6" fill="#505050"/>
<circle cx="416.00" cy="291.00" r="4.6" fill="#505050"/>
<circle cx="418.00" cy="289.79" r="4.6" fill="#505050"/>
<circle cx="420.00" cy="290.61" r="4.6" fill="#505050"/>
<circle cx="422.00" cy="290.10" r="4.6" fill="#505050"/>
<circle cx="424.00" cy="290.99" r="4.6" fill="#505050"/>
<circle cx="426.00" cy="289.64" r="4.6" fill="#505050"/>
<circle cx="428.00" cy="291.02" r="4.6" fill="#505050"/>
<circle cx="430.00" cy="289.74" r="4.6" fill="#505050"/>
<circle cx="432.00" cy="290.49" r="4.6" fill="#505050"/>
<circle cx="434.00" cy="289.98" r="4.6" fill="#505050"/>
<circle cx="436.00" cy="290.87" r="4.6" fill="#505050"/>
<circle cx="438.00" cy="289.52" r="4.6" fill="#505050"/>
<circle cx="440.00" cy="290.90" r="4.6" fill="#505050"/>
<circle cx="442.00" cy="289.60" r="4.6" fill="#505050"/>
<circle cx="444.00" cy="290.33" r="4.6" fill="#505050"/>
<circle cx="446.00" cy="289.80" r="4.6" fill="#505050"/>
<circle cx="448.00" cy="290.67" r="4.6" fill="#505050"/>
<circle cx="450.00" cy="289.30" r="4.6" fill="#505050"/>
<circle cx="452.00" cy="290.66" r="4.6" fill="#505050"/>
<circle cx="454.00" cy="289.36" r="4.6" fill="#505050"/>
<circle cx="456.00" cy="290.09" r="4.6" fill="#505050"/>
<circle cx="458.00" cy="289.56" r="4.6" fill="#505050"/>
<circle cx="460.00" cy="290.43" r="4.6" fill="#505050"/>
<circle cx="462.02" cy="289.05" r="4.6" fill="#505050"/>
<circle cx="464.04" cy="290.39" r="4.6" fill="#505050"/>
<circle cx="466.05" cy="289.08" r="4.6" fill="#505050"/>
<circle cx="468.07" cy="289.79" r="4.6" fill="#505050"/>
<circle cx="470.09" cy="289.25" r="4.6" fill="#505050"/>
<circle cx="472.11" cy="290.10" r="4.6" fill="#505050"/>
<circle cx="474.13" cy="288.72" r="4.6" fill="#505050"/>
<circle cx="476.15" cy="290.06" r="4.6" fill="#505050"/>
<circle cx="478.16" cy="288.75" r="4.6" fill="#505050"/>
<circle cx="480.18" cy="289.46" r="4.6" fill="#505050"/>
<circle cx="482.20" cy="288.92" r="4.6" fill="#505050"/>
<polyline points="396.80,286.00 396.80,270.30 377.10,270.30" fill="none" stroke="#404040" stroke-width="1.2" stroke-linejoin="round" stroke-dasharray="1.3,1.3" stroke-linejoin="miter"/>
<path d="M371.90,270.30 L377.10,267.50 L377.10,273.10 Z" fill="#404040"/>
<polyline points="456.50,321.30 456.50,333.20 476.00,333.20" fill="none" stroke="#00B050" stroke-width="1.2" stroke-linejoin="round" stroke-dasharray="1.3,1.3" stroke-linejoin="miter"/>
<path d="M481.20,333.20 L476.00,336.00 L476.00,330.40 Z" fill="#00B050"/>
<path d="M537.50,329.10L541.70,337.70L533.30,337.70Z" fill="#00B050"/>
<path d="M540.00,329.14L544.20,337.74L535.80,337.74Z" fill="#00B050"/>
<path d="M542.50,330.33L546.70,338.94L538.30,338.94Z" fill="#00B050"/>
<path d="M545.00,330.27L549.20,338.87L540.80,338.87Z" fill="#00B050"/>
<path d="M547.50,331.60L551.70,340.20L543.30,340.20Z" fill="#00B050"/>
<path d="M550.00,330.70L554.20,339.30L545.80,339.30Z" fill="#00B050"/>
<path d="M552.50,332.62L556.70,341.23L548.30,341.23Z" fill="#00B050"/>
<path d="M555.00,331.89L559.20,340.49L550.80,340.49Z" fill="#00B050"/>
<path d="M557.50,333.18L561.70,341.78L553.30,341.78Z" fill="#00B050"/>
<path d="M560.00,333.22L564.20,341.82L555.80,341.82Z" fill="#00B050"/>
<path d="M562.50,334.48L566.70,343.08L558.30,343.08Z" fill="#00B050"/>
<path d="M565.00,333.50L569.20,342.10L560.80,342.10Z" fill="#00B050"/>
<path d="M567.50,335.25L571.70,343.85L563.30,343.85Z" fill="#00B050"/>
<path d="M570.00,334.34L574.20,342.94L565.80,342.94Z" fill="#00B050"/>
<path d="M572.50,335.43L576.70,344.03L568.30,344.03Z" fill="#00B050"/>
<path d="M575.00,335.27L579.20,343.87L570.80,343.87Z" fill="#00B050"/>
<path d="M577.50,336.50L581.70,345.11L573.30,345.11Z" fill="#00B050"/>
<path d="M580.00,335.50L584.20,344.10L575.80,344.10Z" fill="#00B050"/>
<path d="M582.50,337.32L586.70,345.93L578.30,345.93Z" fill="#00B050"/>
<path d="M585.00,336.49L589.20,345.09L580.80,345.09Z" fill="#00B050"/>
<path d="M587.50,337.68L591.70,346.28L583.30,346.28Z" fill="#00B050"/>
<path d="M590.00,337.62L594.20,346.22L585.80,346.22Z" fill="#00B050"/>
<path d="M592.50,338.73L596.70,347.33L588.30,347.33Z" fill="#00B050"/>
<path d="M595.00,337.60L599.20,346.20L590.80,346.20Z" fill="#00B050"/>
<path d="M597.50,339.20L601.70,347.80L593.30,347.80Z" fill="#00B050"/>
<path d="M600.00,338.14L604.20,346.74L595.80,346.74Z" fill="#00B050"/>
<path d="M602.40,339.19L606.60,347.79L598.20,347.79Z" fill="#00B050"/>
<path d="M604.80,338.98L609.00,347.58L600.60,347.58Z" fill="#00B050"/>
<path d="M607.20,340.17L611.40,348.77L603.00,348.77Z" fill="#00B050"/>
<path d="M609.60,339.12L613.80,347.72L605.40,347.72Z" fill="#00B050"/>
<path d="M612.00,340.80L616.20,349.40L607.80,349.40Z" fill="#00B050"/>
<path d="M614.30,339.30L618.60,347.90L610.00,347.90Z" fill="#00B050"/>
<path d="M621.30,341.62L625.50,350.02L617.10,350.02Z" fill="#00B050"/>
<path d="M625.80,341.94L630.00,350.34L621.60,350.34Z" fill="#00B050"/>
<path d="M630.30,342.25L634.50,350.65L626.10,350.65Z" fill="#00B050"/>
<path d="M634.80,342.57L639.00,350.97L630.60,350.97Z" fill="#00B050"/>
<path d="M639.20,342.87L643.40,351.27L635.00,351.27Z" fill="#00B050"/>
<path d="M644.20,343.22L648.40,351.62L640.00,351.62Z" fill="#00B050"/>
<path d="M649.10,343.57L653.30,351.97L644.90,351.97Z" fill="#00B050"/>
<circle cx="537.20" cy="278.00" r="4.5" fill="#505050"/>
<circle cx="537.50" cy="286.40" r="4.4" fill="#505050"/>
<circle cx="538.00" cy="290.70" r="4.4" fill="#505050"/>
<circle cx="540.50" cy="293.50" r="4.4" fill="#505050"/>
<circle cx="543.00" cy="291.20" r="4.4" fill="#505050"/>
<circle cx="545.00" cy="291.00" r="4.4" fill="#505050"/>
<circle cx="548.00" cy="291.80" r="4.4" fill="#505050"/>
<circle cx="550.00" cy="292.50" r="4.4" fill="#505050"/>
<circle cx="552.50" cy="293.50" r="4.4" fill="#505050"/>
<circle cx="555.00" cy="294.50" r="4.4" fill="#505050"/>
<circle cx="557.50" cy="295.30" r="4.4" fill="#505050"/>
<circle cx="560.00" cy="295.80" r="4.4" fill="#505050"/>
<circle cx="562.00" cy="297.80" r="4.4" fill="#505050"/>
<circle cx="565.00" cy="303.80" r="4.5" fill="#505050"/>
<circle cx="568.50" cy="306.00" r="4.5" fill="#505050"/>
<circle cx="572.00" cy="307.60" r="4.5" fill="#505050"/>
<circle cx="576.00" cy="309.50" r="4.5" fill="#505050"/>
<circle cx="580.00" cy="311.50" r="4.5" fill="#505050"/>
<circle cx="585.00" cy="313.00" r="4.5" fill="#505050"/>
<circle cx="590.00" cy="314.60" r="4.5" fill="#505050"/>
<circle cx="595.00" cy="316.50" r="4.5" fill="#505050"/>
<circle cx="600.00" cy="318.50" r="4.5" fill="#505050"/>
<circle cx="605.00" cy="319.20" r="4.5" fill="#505050"/>
<circle cx="566.60" cy="302.30" r="4.5" fill="#505050"/>
<circle cx="575.80" cy="307.30" r="4.5" fill="#505050"/>
<circle cx="584.50" cy="311.70" r="4.5" fill="#505050"/>
<circle cx="592.80" cy="315.40" r="4.5" fill="#505050"/>
<circle cx="600.50" cy="318.00" r="4.5" fill="#505050"/>
<circle cx="608.40" cy="318.90" r="4.5" fill="#505050"/>
<circle cx="571.20" cy="303.90" r="4.5" fill="#505050"/>
<circle cx="580.40" cy="308.30" r="4.5" fill="#505050"/>
<circle cx="588.70" cy="312.70" r="4.5" fill="#505050"/>
<circle cx="597.00" cy="315.80" r="4.5" fill="#505050"/>
<circle cx="604.00" cy="317.90" r="4.5" fill="#505050"/>
<circle cx="612.80" cy="317.50" r="4.5" fill="#505050"/>
<circle cx="612.80" cy="320.80" r="4.5" fill="#505050"/>
<circle cx="613.20" cy="324.00" r="4.5" fill="#505050"/>
<circle cx="617.00" cy="325.20" r="4.5" fill="#505050"/>
<circle cx="621.80" cy="323.30" r="4.5" fill="#505050"/>
<circle cx="624.50" cy="327.60" r="4.5" fill="#505050"/>
<circle cx="627.50" cy="328.30" r="4.5" fill="#505050"/>
<circle cx="630.20" cy="327.40" r="4.5" fill="#505050"/>
<circle cx="633.50" cy="329.60" r="4.5" fill="#505050"/>
<circle cx="637.00" cy="331.40" r="4.5" fill="#505050"/>
<circle cx="640.50" cy="332.30" r="4.5" fill="#505050"/>
<circle cx="644.00" cy="332.90" r="4.5" fill="#505050"/>
<circle cx="647.00" cy="333.30" r="4.5" fill="#505050"/>
<circle cx="649.50" cy="333.60" r="4.5" fill="#505050"/>
<polyline points="554.70,289.00 554.70,270.00 543.40,270.00" fill="none" stroke="#404040" stroke-width="1.2" stroke-linejoin="round" stroke-dasharray="1.3,1.3" stroke-linejoin="miter"/>
<path d="M538.20,270.00 L543.40,267.20 L543.40,272.80 Z" fill="#404040"/>
<polyline points="624.20,352.50 624.20,365.00 643.10,365.00" fill="none" stroke="#00B050" stroke-width="1.2" stroke-linejoin="round" stroke-dasharray="1.3,1.3" stroke-linejoin="miter"/>
<path d="M648.30,365.00 L643.10,367.80 L643.10,362.20 Z" fill="#00B050"/>
<line x1="36.6" y1="248.79999999999998" x2="36.6" y2="447.5" stroke="#595959" stroke-width="1.3"/>
<line x1="203.0" y1="248.79999999999998" x2="203.0" y2="447.5" stroke="#595959" stroke-width="1.3"/>
<line x1="370.2" y1="248.79999999999998" x2="370.2" y2="447.5" stroke="#595959" stroke-width="1.3"/>
<line x1="536.8" y1="248.79999999999998" x2="536.8" y2="447.5" stroke="#595959" stroke-width="1.3"/>
<defs><linearGradient id="g1" gradientUnits="userSpaceOnUse" x1="372.8" y1="304.6" x2="391.4" y2="291.0"><stop offset="0" stop-color="#dadada"/><stop offset="1" stop-color="#727272"/></linearGradient></defs>
<path d="M372.80,304.60 L381.80,288.40 L391.40,291.00 L388.40,299.60 L386.00,296.60 Z" fill="url(#g1)" stroke="#fff" stroke-width="0.9" stroke-linejoin="miter" paint-order="stroke"/>
<path d="M372.80,304.60 L381.80,288.40 L391.40,291.00 L388.40,299.60 L386.00,296.60 Z" fill="url(#g1)"/>
<defs><linearGradient id="g2" gradientUnits="userSpaceOnUse" x1="373" y1="338.5" x2="391" y2="325"><stop offset="0" stop-color="#7ae69a"/><stop offset="1" stop-color="#1fc93f"/></linearGradient></defs>
<path d="M373.00,338.50 L382.25,322.75 L391.00,325.00 L388.25,333.75 L386.50,331.25 Z" fill="url(#g2)" stroke="#fff" stroke-width="0.9" stroke-linejoin="miter" paint-order="stroke"/>
<path d="M373.00,338.50 L382.25,322.75 L391.00,325.00 L388.25,333.75 L386.50,331.25 Z" fill="url(#g2)"/>
<defs><linearGradient id="g3" gradientUnits="userSpaceOnUse" x1="540.1" y1="292.3" x2="560.6" y2="308.3"><stop offset="0" stop-color="#dadada"/><stop offset="1" stop-color="#727272"/></linearGradient></defs>
<path d="M540.10,292.30 L556.60,301.50 L558.50,298.00 L560.60,308.30 L552.20,310.50 Z" fill="url(#g3)" stroke="#fff" stroke-width="0.9" stroke-linejoin="miter" paint-order="stroke"/>
<path d="M540.10,292.30 L556.60,301.50 L558.50,298.00 L560.60,308.30 L552.20,310.50 Z" fill="url(#g3)"/>
<defs><linearGradient id="g4" gradientUnits="userSpaceOnUse" x1="538.4" y1="335.5" x2="559.6" y2="351.2"><stop offset="0" stop-color="#7ae69a"/><stop offset="1" stop-color="#1fc93f"/></linearGradient></defs>
<path d="M538.40,335.50 L555.50,345.00 L557.40,343.60 L559.60,351.20 L550.90,353.90 Z" fill="url(#g4)" stroke="#fff" stroke-width="0.9" stroke-linejoin="miter" paint-order="stroke"/>
<path d="M538.40,335.50 L555.50,345.00 L557.40,343.60 L559.60,351.20 L550.90,353.90 Z" fill="url(#g4)"/>
</svg></body></html>
